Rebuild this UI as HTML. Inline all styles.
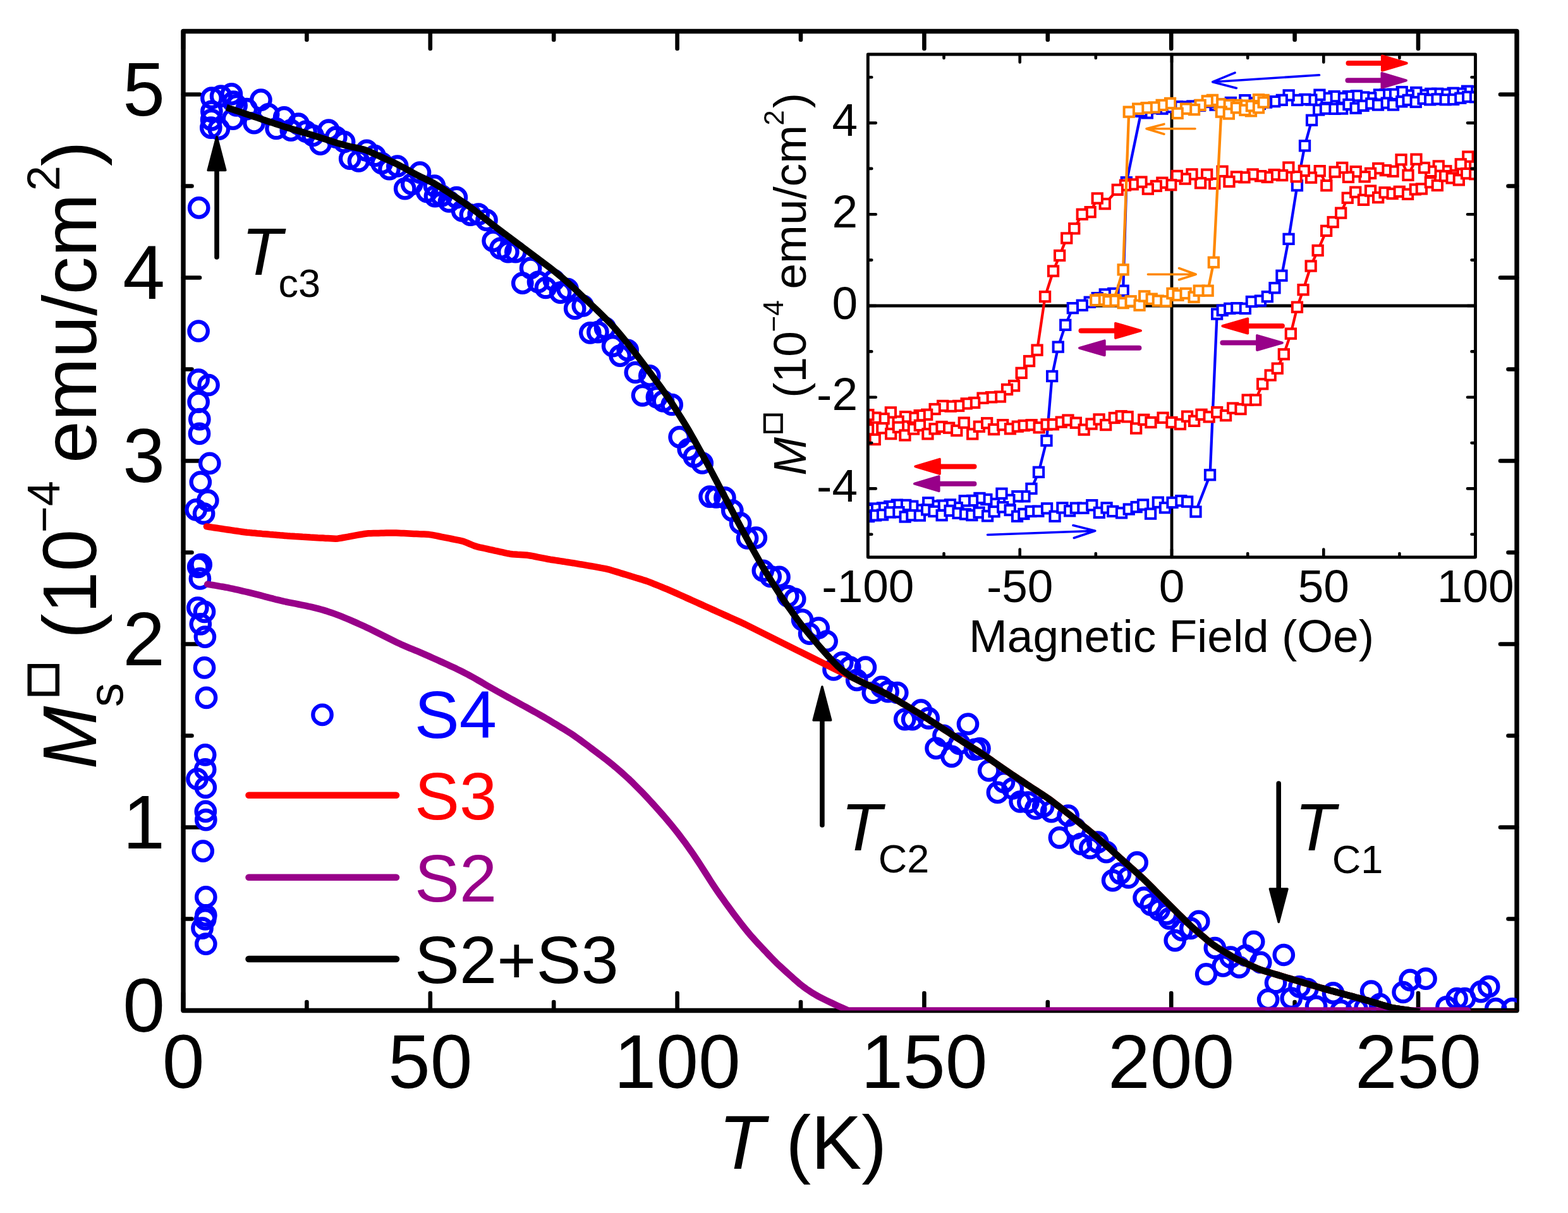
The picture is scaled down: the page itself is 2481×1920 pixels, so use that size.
<!DOCTYPE html>
<html><head><meta charset="utf-8"><title>Ms vs T</title>
<style>html,body{margin:0;padding:0;background:#fff;overflow:hidden;}svg{display:block;}</style>
</head><body>
<svg width="2481" height="1920" viewBox="0 0 2481 1920">
<defs>
<clipPath id="cm"><rect x="290.0" y="49.5" width="2110.0" height="1550.0"/></clipPath>
<clipPath id="ci"><rect x="1373.3" y="86.0" width="961.2" height="796.0"/></clipPath>
</defs>
<rect width="2481" height="1920" fill="#fff"/>
<g stroke="#000" fill="none" stroke-linecap="round">
<rect x="290.0" y="49.5" width="2110.0" height="1550.0" stroke-width="7.4" stroke-linejoin="round"/>
<path d="M290 1599.5V1572M290 49.5V77M485.4 1599.5V1586M485.4 49.5V63M680.8 1599.5V1572M680.8 49.5V77M876.2 1599.5V1586M876.2 49.5V63M1071.6 1599.5V1572M1071.6 49.5V77M1267 1599.5V1586M1267 49.5V63M1462.4 1599.5V1572M1462.4 49.5V77M1657.8 1599.5V1586M1657.8 49.5V63M1853.2 1599.5V1572M1853.2 49.5V77M2048.6 1599.5V1586M2048.6 49.5V63M2244 1599.5V1572M2244 49.5V77M290.0 1599.5H316M2400.0 1599.5H2374M290.0 1454.5H303.5M2400.0 1454.5H2386.5M290.0 1309.5H316M2400.0 1309.5H2374M290.0 1164.5H303.5M2400.0 1164.5H2386.5M290.0 1019.5H316M2400.0 1019.5H2374M290.0 874.5H303.5M2400.0 874.5H2386.5M290.0 729.5H316M2400.0 729.5H2374M290.0 584.5H303.5M2400.0 584.5H2386.5M290.0 439.5H316M2400.0 439.5H2374M290.0 294.5H303.5M2400.0 294.5H2386.5M290.0 149.5H316M2400.0 149.5H2374" stroke-width="6.6"/>
</g>
<g font-family="'Liberation Sans', Arial, sans-serif" font-size="120" fill="#000">
<text x="290" y="1722" text-anchor="middle">0</text>
<text x="680.8" y="1722" text-anchor="middle">50</text>
<text x="1071.6" y="1722" text-anchor="middle">100</text>
<text x="1462.4" y="1722" text-anchor="middle">150</text>
<text x="1853.2" y="1722" text-anchor="middle">200</text>
<text x="2244" y="1722" text-anchor="middle">250</text>
<text x="261" y="1633" text-anchor="end">0</text>
<text x="261" y="1343" text-anchor="end">1</text>
<text x="261" y="1053" text-anchor="end">2</text>
<text x="261" y="763" text-anchor="end">3</text>
<text x="261" y="473" text-anchor="end">4</text>
<text x="261" y="183" text-anchor="end">5</text>
</g>
<text x="1270" y="1850" font-family="'Liberation Sans', Arial, sans-serif" font-size="120" text-anchor="middle"><tspan font-style="italic">T</tspan> (K)</text>
<text transform="translate(152 1214) rotate(-90)" font-family="'Liberation Sans', Arial, sans-serif" font-size="120"><tspan x="-3.6" y="0" font-style="italic">M</tspan><tspan x="108.6" y="-67.5" font-size="62" font-family="DejaVu Sans, sans-serif" stroke="#000" stroke-width="3.1">&#x25A1;</tspan><tspan x="95" y="42" font-size="76">s</tspan><tspan x="202.7" y="0">(10</tspan><tspan x="370.6" y="-58.2" font-size="72">&#x2212;4</tspan><tspan x="480.9" y="0">emu/cm</tspan><tspan x="911.8" y="-58.5" font-size="72">2</tspan><tspan x="950.7" y="0">)</tspan></text>
<g clip-path="url(#cm)">
<g fill="none" stroke="#0000ff" stroke-width="6.3">
<circle cx="314.7" cy="328.9" r="14.7"/>
<circle cx="314.1" cy="524" r="14.7"/>
<circle cx="314.1" cy="601.2" r="14.7"/>
<circle cx="330" cy="609.5" r="14.7"/>
<circle cx="314.1" cy="636.2" r="14.7"/>
<circle cx="315.8" cy="663.7" r="14.7"/>
<circle cx="315.5" cy="686.4" r="14.7"/>
<circle cx="331.8" cy="733.4" r="14.7"/>
<circle cx="317.3" cy="763" r="14.7"/>
<circle cx="328.8" cy="792.2" r="14.7"/>
<circle cx="310.2" cy="806.8" r="14.7"/>
<circle cx="322.6" cy="813" r="14.7"/>
<circle cx="318.2" cy="893.7" r="14.7"/>
<circle cx="313.7" cy="897.3" r="14.7"/>
<circle cx="316.4" cy="915.9" r="14.7"/>
<circle cx="312.8" cy="962" r="14.7"/>
<circle cx="323.5" cy="968.3" r="14.7"/>
<circle cx="317.3" cy="987.8" r="14.7"/>
<circle cx="324.4" cy="1008.2" r="14.7"/>
<circle cx="323.5" cy="1056.9" r="14.7"/>
<circle cx="326.5" cy="1104.3" r="14.7"/>
<circle cx="324.7" cy="1194.8" r="14.7"/>
<circle cx="324.7" cy="1217.9" r="14.7"/>
<circle cx="312" cy="1233" r="14.7"/>
<circle cx="325.3" cy="1246.3" r="14.7"/>
<circle cx="325.3" cy="1284.4" r="14.7"/>
<circle cx="325.8" cy="1297.7" r="14.7"/>
<circle cx="321.2" cy="1347.1" r="14.7"/>
<circle cx="325.8" cy="1419.9" r="14.7"/>
<circle cx="325.8" cy="1448.8" r="14.7"/>
<circle cx="324.7" cy="1455" r="14.7"/>
<circle cx="320" cy="1469.2" r="14.7"/>
<circle cx="325.8" cy="1494.1" r="14.7"/>
<circle cx="334.9" cy="155.2" r="14.7"/>
<circle cx="349.6" cy="152.2" r="14.7"/>
<circle cx="366.4" cy="148.9" r="14.7"/>
<circle cx="369.4" cy="161" r="14.7"/>
<circle cx="374.1" cy="166.9" r="14.7"/>
<circle cx="390.2" cy="172.7" r="14.7"/>
<circle cx="412.9" cy="158.1" r="14.7"/>
<circle cx="334.9" cy="176.4" r="14.7"/>
<circle cx="333.8" cy="202.1" r="14.7"/>
<circle cx="346.3" cy="204.2" r="14.7"/>
<circle cx="368.6" cy="188.1" r="14.7"/>
<circle cx="402" cy="194.7" r="14.7"/>
<circle cx="424.7" cy="180.8" r="14.7"/>
<circle cx="437.1" cy="203.5" r="14.7"/>
<circle cx="449.6" cy="185.9" r="14.7"/>
<circle cx="334.6" cy="189.6" r="14.7"/>
<circle cx="460.3" cy="206.2" r="14.7"/>
<circle cx="472.2" cy="196.2" r="14.7"/>
<circle cx="484.1" cy="208.1" r="14.7"/>
<circle cx="495.1" cy="214.5" r="14.7"/>
<circle cx="507" cy="228.2" r="14.7"/>
<circle cx="519.9" cy="206.2" r="14.7"/>
<circle cx="531.8" cy="217.2" r="14.7"/>
<circle cx="544.6" cy="224.5" r="14.7"/>
<circle cx="553.7" cy="251.1" r="14.7"/>
<circle cx="567.5" cy="254.8" r="14.7"/>
<circle cx="580.3" cy="238.3" r="14.7"/>
<circle cx="593.1" cy="246.5" r="14.7"/>
<circle cx="604.1" cy="258.4" r="14.7"/>
<circle cx="616" cy="267.6" r="14.7"/>
<circle cx="628.8" cy="263" r="14.7"/>
<circle cx="640.7" cy="298.7" r="14.7"/>
<circle cx="651.7" cy="291.4" r="14.7"/>
<circle cx="664.5" cy="273.1" r="14.7"/>
<circle cx="675.5" cy="303.3" r="14.7"/>
<circle cx="687.4" cy="294.1" r="14.7"/>
<circle cx="688.4" cy="310.6" r="14.7"/>
<circle cx="698.6" cy="309.9" r="14.7"/>
<circle cx="710.5" cy="319" r="14.7"/>
<circle cx="722.4" cy="312.6" r="14.7"/>
<circle cx="731.6" cy="333.7" r="14.7"/>
<circle cx="744.4" cy="340.1" r="14.7"/>
<circle cx="757.2" cy="339.2" r="14.7"/>
<circle cx="770" cy="348.4" r="14.7"/>
<circle cx="780.1" cy="381.3" r="14.7"/>
<circle cx="792" cy="393.2" r="14.7"/>
<circle cx="803.9" cy="398.7" r="14.7"/>
<circle cx="815.8" cy="398.7" r="14.7"/>
<circle cx="839.6" cy="424.4" r="14.7"/>
<circle cx="826.8" cy="448.2" r="14.7"/>
<circle cx="851.5" cy="446.3" r="14.7"/>
<circle cx="863.4" cy="455.5" r="14.7"/>
<circle cx="876.3" cy="443.6" r="14.7"/>
<circle cx="886.6" cy="463.1" r="14.7"/>
<circle cx="898.1" cy="457.6" r="14.7"/>
<circle cx="909.7" cy="488.4" r="14.7"/>
<circle cx="922.3" cy="484" r="14.7"/>
<circle cx="957.5" cy="519.1" r="14.7"/>
<circle cx="933.8" cy="526.8" r="14.7"/>
<circle cx="945.9" cy="525.7" r="14.7"/>
<circle cx="969.6" cy="547.7" r="14.7"/>
<circle cx="981.1" cy="563.1" r="14.7"/>
<circle cx="993.2" cy="554.3" r="14.7"/>
<circle cx="1005.3" cy="589.5" r="14.7"/>
<circle cx="1027.8" cy="594.9" r="14.7"/>
<circle cx="1016.5" cy="625.8" r="14.7"/>
<circle cx="1039.4" cy="628.6" r="14.7"/>
<circle cx="1049.5" cy="635" r="14.7"/>
<circle cx="1063.2" cy="640.5" r="14.7"/>
<circle cx="1075.1" cy="691.8" r="14.7"/>
<circle cx="1089.2" cy="711" r="14.7"/>
<circle cx="1098.4" cy="722.9" r="14.7"/>
<circle cx="1111.2" cy="733" r="14.7"/>
<circle cx="1123.1" cy="786.1" r="14.7"/>
<circle cx="1133.2" cy="787" r="14.7"/>
<circle cx="1146.9" cy="787.9" r="14.7"/>
<circle cx="1158.8" cy="808.1" r="14.7"/>
<circle cx="1171.6" cy="828.2" r="14.7"/>
<circle cx="1182.6" cy="852" r="14.7"/>
<circle cx="1196.3" cy="851.1" r="14.7"/>
<circle cx="1207.3" cy="903.3" r="14.7"/>
<circle cx="1219.2" cy="912.5" r="14.7"/>
<circle cx="1233" cy="913.4" r="14.7"/>
<circle cx="1246.7" cy="943.6" r="14.7"/>
<circle cx="1257.7" cy="948.2" r="14.7"/>
<circle cx="1269.6" cy="981.1" r="14.7"/>
<circle cx="1295.2" cy="994" r="14.7"/>
<circle cx="1280.6" cy="1003.1" r="14.7"/>
<circle cx="1308.1" cy="1015" r="14.7"/>
<circle cx="1319" cy="1059.9" r="14.7"/>
<circle cx="1332.8" cy="1048.9" r="14.7"/>
<circle cx="1344.7" cy="1056.2" r="14.7"/>
<circle cx="1355.7" cy="1076.4" r="14.7"/>
<circle cx="1369.4" cy="1056.2" r="14.7"/>
<circle cx="1381.3" cy="1096.5" r="14.7"/>
<circle cx="1395.1" cy="1087.4" r="14.7"/>
<circle cx="1405.1" cy="1094.7" r="14.7"/>
<circle cx="1419.8" cy="1096.5" r="14.7"/>
<circle cx="1431.7" cy="1138.6" r="14.7"/>
<circle cx="1443.6" cy="1138.6" r="14.7"/>
<circle cx="1457.3" cy="1124" r="14.7"/>
<circle cx="1469.2" cy="1136.8" r="14.7"/>
<circle cx="1493" cy="1164.3" r="14.7"/>
<circle cx="1481.1" cy="1184.4" r="14.7"/>
<circle cx="1505.9" cy="1197.3" r="14.7"/>
<circle cx="1517.8" cy="1177.1" r="14.7"/>
<circle cx="1531.5" cy="1146" r="14.7"/>
<circle cx="1542.5" cy="1186.3" r="14.7"/>
<circle cx="1550" cy="1184.8" r="14.7"/>
<circle cx="1564.7" cy="1219.6" r="14.7"/>
<circle cx="1588.5" cy="1237.9" r="14.7"/>
<circle cx="1602.2" cy="1248" r="14.7"/>
<circle cx="1578.4" cy="1254.4" r="14.7"/>
<circle cx="1614.1" cy="1269" r="14.7"/>
<circle cx="1626.9" cy="1270" r="14.7"/>
<circle cx="1638.8" cy="1280" r="14.7"/>
<circle cx="1650.7" cy="1276.4" r="14.7"/>
<circle cx="1663.6" cy="1284.6" r="14.7"/>
<circle cx="1690.1" cy="1291" r="14.7"/>
<circle cx="1701.1" cy="1311.2" r="14.7"/>
<circle cx="1676.4" cy="1325.8" r="14.7"/>
<circle cx="1710.3" cy="1335.9" r="14.7"/>
<circle cx="1724.9" cy="1342.3" r="14.7"/>
<circle cx="1736.8" cy="1333.2" r="14.7"/>
<circle cx="1750.5" cy="1348.7" r="14.7"/>
<circle cx="1772.5" cy="1382.6" r="14.7"/>
<circle cx="1760.6" cy="1393.6" r="14.7"/>
<circle cx="1785.3" cy="1389" r="14.7"/>
<circle cx="1799.1" cy="1365.2" r="14.7"/>
<circle cx="1810.1" cy="1421.1" r="14.7"/>
<circle cx="1821.1" cy="1432.1" r="14.7"/>
<circle cx="1833.9" cy="1440.3" r="14.7"/>
<circle cx="1845.8" cy="1446.7" r="14.7"/>
<circle cx="1850" cy="1453.8" r="14.7"/>
<circle cx="1859.2" cy="1488.6" r="14.7"/>
<circle cx="1870.1" cy="1472.2" r="14.7"/>
<circle cx="1883.9" cy="1469.4" r="14.7"/>
<circle cx="1896.7" cy="1458.4" r="14.7"/>
<circle cx="1908.6" cy="1541.8" r="14.7"/>
<circle cx="1922.3" cy="1500.5" r="14.7"/>
<circle cx="1935.2" cy="1528.9" r="14.7"/>
<circle cx="1947.1" cy="1515.2" r="14.7"/>
<circle cx="1960.8" cy="1530.8" r="14.7"/>
<circle cx="1970.9" cy="1512.5" r="14.7"/>
<circle cx="1983.7" cy="1490.5" r="14.7"/>
<circle cx="1994.7" cy="1523.4" r="14.7"/>
<circle cx="2031.3" cy="1511.5" r="14.7"/>
<circle cx="2018.5" cy="1555.5" r="14.7"/>
<circle cx="2006.6" cy="1582.1" r="14.7"/>
<circle cx="2043.2" cy="1580.2" r="14.7"/>
<circle cx="2056" cy="1561.9" r="14.7"/>
<circle cx="2068.9" cy="1565.6" r="14.7"/>
<circle cx="2082.6" cy="1593" r="14.7"/>
<circle cx="2109.5" cy="1571.9" r="14.7"/>
<circle cx="2122" cy="1599.8" r="14.7"/>
<circle cx="2146.9" cy="1596.8" r="14.7"/>
<circle cx="2160.1" cy="1595.4" r="14.7"/>
<circle cx="2169.6" cy="1569" r="14.7"/>
<circle cx="2183.5" cy="1589.5" r="14.7"/>
<circle cx="2220.1" cy="1570.5" r="14.7"/>
<circle cx="2231.1" cy="1551.4" r="14.7"/>
<circle cx="2256" cy="1549.2" r="14.7"/>
<circle cx="2289" cy="1593.9" r="14.7"/>
<circle cx="2305.1" cy="1580.7" r="14.7"/>
<circle cx="2317.6" cy="1580.7" r="14.7"/>
<circle cx="2343.2" cy="1569.7" r="14.7"/>
<circle cx="2355.7" cy="1561.7" r="14.7"/>
<circle cx="2366.7" cy="1596.8" r="14.7"/>
<circle cx="2393" cy="1596.8" r="14.7"/>
</g>
<path d="M326.9 833.4 L330.9 834 L334.9 834.6 L338.9 835.2 L342.9 835.8 L346.9 836.4 L350.9 837 L354.9 837.6 L358.9 838.2 L362.9 838.8 L366.9 839.4 L370.9 840 L374.9 840.5 L378.9 841.1 L382.9 841.7 L386.9 842.3 L390.9 842.8 L394.9 843.1 L398.9 843.5 L402.9 843.8 L406.9 844.2 L410.9 844.5 L414.9 844.9 L418.9 845.2 L422.9 845.5 L426.9 845.9 L430.9 846.2 L434.9 846.6 L438.9 846.9 L442.9 847.3 L446.9 847.6 L450.9 847.9 L454.9 848.3 L458.9 848.6 L462.9 848.8 L466.9 849.1 L470.9 849.3 L474.9 849.5 L478.9 849.8 L482.9 850 L486.9 850.2 L490.9 850.5 L494.9 850.7 L498.9 850.9 L502.9 851.2 L506.9 851.4 L510.9 851.6 L514.9 851.9 L518.9 852.1 L522.9 852.3 L526.9 852.5 L530.9 852.7 L534.9 852.4 L538.9 851.8 L542.9 851 L546.9 850.3 L550.9 849.6 L554.9 848.8 L558.9 848.1 L562.9 847.4 L566.9 846.7 L570.9 846 L574.9 845.3 L578.9 844.7 L582.9 844.3 L586.9 844.2 L590.9 844.1 L594.9 844 L598.9 843.9 L602.9 843.8 L606.9 843.7 L610.9 843.6 L614.9 843.5 L618.9 843.4 L622.9 843.4 L626.9 843.5 L630.9 843.7 L634.9 843.9 L638.9 844.1 L642.9 844.3 L646.9 844.5 L650.9 844.7 L654.9 844.9 L658.9 845.1 L662.9 845.3 L666.9 845.4 L670.9 845.6 L674.9 845.8 L678.9 846.1 L682.9 846.6 L686.9 847.4 L690.9 848.2 L694.9 849 L698.9 849.8 L702.9 850.6 L706.9 851.4 L710.9 852.2 L714.9 853 L718.9 853.8 L722.9 854.6 L726.9 855.4 L730.9 856.3 L734.9 857.6 L738.9 859.2 L742.9 860.9 L746.9 862.5 L750.9 864.1 L754.9 865.3 L758.9 866.3 L762.9 867.1 L766.9 868 L770.9 868.9 L774.9 869.8 L778.9 870.7 L782.9 871.6 L786.9 872.4 L790.9 873.3 L794.9 874.2 L798.9 875.1 L802.9 876 L806.9 876.7 L810.9 877.2 L814.9 877.4 L818.9 877.7 L822.9 877.9 L826.9 878.2 L830.9 878.5 L834.9 878.8 L838.9 879.5 L842.9 880.2 L846.9 881 L850.9 881.8 L854.9 882.6 L858.9 883.4 L862.9 884.2 L866.9 885 L870.9 885.7 L874.9 886.3 L878.9 886.9 L882.9 887.5 L886.9 888.1 L890.9 888.7 L894.9 889.4 L898.9 890 L902.9 890.6 L906.9 891.2 L910.9 891.9 L914.9 892.6 L918.9 893.3 L922.9 893.9 L926.9 894.6 L930.9 895.3 L934.9 896 L938.9 896.7 L942.9 897.4 L946.9 898.1 L950.9 898.9 L954.9 899.6 L958.9 900.4 L962.9 901.3 L966.9 902.5 L970.9 903.7 L974.9 904.9 L978.9 906.1 L982.9 907.4 L986.9 908.6 L990.9 909.8 L994.9 911 L998.9 912.3 L1002.9 913.5 L1006.9 914.7 L1010.9 915.9 L1014.9 917.1 L1018.9 918.4 L1022.9 919.6 L1026.9 921.1 L1030.9 922.7 L1034.9 924.3 L1038.9 925.9 L1042.9 927.5 L1046.9 929.2 L1050.9 930.8 L1054.9 932.4 L1058.9 934.1 L1062.9 935.8 L1066.9 937.6 L1070.9 939.4 L1074.9 941.2 L1078.9 943 L1082.9 944.8 L1086.9 946.6 L1090.9 948.4 L1094.9 950.2 L1098.9 952 L1102.9 953.8 L1106.9 955.6 L1110.9 957.4 L1114.9 959.2 L1118.9 961 L1122.9 962.8 L1126.9 964.6 L1130.9 966.4 L1134.9 968.2 L1138.9 970 L1142.9 971.8 L1146.9 973.6 L1150.9 975.4 L1154.9 977.2 L1158.9 979 L1162.9 980.8 L1166.9 982.6 L1170.9 984.4 L1174.9 986.3 L1178.9 988.1 L1182.9 990.1 L1186.9 992.1 L1190.9 994.1 L1194.9 996.1 L1198.9 998.1 L1202.9 1000.1 L1206.9 1002.1 L1210.9 1004.1 L1214.9 1006.1 L1218.9 1008.1 L1222.9 1010.1 L1226.9 1012.1 L1230.9 1014.1 L1234.9 1016.1 L1238.9 1018.1 L1242.9 1020.1 L1246.9 1022.1 L1250.9 1024.1 L1254.9 1026.1 L1258.9 1028.1 L1262.9 1030.1 L1266.9 1032 L1270.9 1034 L1274.9 1036 L1278.9 1038 L1282.9 1040 L1286.9 1042 L1290.9 1044 L1294.9 1046 L1298.9 1048 L1302.9 1050 L1306.9 1052 L1310.9 1054 L1314.9 1056 L1318.9 1058 L1322.9 1060 L1326.9 1061.9 L1330.9 1063.8 L1334.9 1065.7 L1338.9 1067.5 L1342.9 1069.3 L1344.7 1070.2 L1348.7 1072.2 L1352.7 1074.2 L1356.7 1076.2 L1360.7 1078.2 L1364.7 1080.2 L1368.7 1082.2 L1372.7 1084.1 L1376.7 1086 L1380.7 1087.9 L1384.7 1089.8 L1388.7 1091.7 L1392.7 1093.6 L1396.7 1095.5 L1400.7 1097.4 L1404.7 1099.5 L1408.7 1101.9 L1412.7 1104.3 L1416.7 1106.7 L1420.7 1109.1 L1424.7 1111.5 L1428.7 1113.9 L1432.7 1116.3 L1436.7 1118.7 L1440.7 1121.1 L1444.7 1123.5 L1448.7 1125.9 L1452.7 1128.3 L1456.7 1130.7 L1460.7 1133.2 L1464.7 1135.8 L1468.7 1138.4 L1472.7 1141 L1476.7 1143.6 L1480.7 1146.2 L1484.7 1148.8 L1488.7 1151.4 L1492.7 1154 L1496.7 1156.6 L1500.7 1159.2 L1504.7 1161.8 L1508.7 1164.4 L1512.7 1167 L1516.7 1169.6 L1520.7 1172.2 L1524.7 1174.8 L1528.7 1177.4 L1532.7 1179.9 L1536.7 1182.3 L1540.7 1184.7 L1544.7 1187.1 L1548.7 1189.6 L1552.7 1192.3 L1556.7 1195 L1560.7 1197.8 L1564.7 1200.6 L1568.7 1203.4 L1572.7 1206.2 L1576.7 1209 L1580.7 1211.8 L1584.7 1214.6 L1588.7 1217.3 L1592.7 1220.1 L1596.7 1222.8 L1600.7 1225.5 L1604.7 1228.1 L1608.7 1230.8 L1612.7 1233.5 L1616.7 1236.2 L1620.7 1238.9 L1624.7 1241.6 L1628.7 1244.2 L1632.7 1246.8 L1636.7 1249.4 L1640.7 1252 L1644.7 1254.6 L1648.7 1257.2 L1652.7 1259.8 L1656.7 1262.5 L1660.7 1265.3 L1664.7 1268.3 L1668.7 1271.4 L1672.7 1274.5 L1676.7 1277.5 L1680.7 1280.6 L1684.7 1283.7 L1688.7 1286.8 L1692.7 1289.9 L1696.7 1293.1 L1700.7 1296.3 L1704.7 1299.6 L1708.7 1302.9 L1712.7 1306.2 L1716.7 1309.5 L1720.7 1312.7 L1724.7 1316 L1728.7 1319.3 L1732.7 1322.6 L1736.7 1326 L1740.7 1329.5 L1744.7 1333.1 L1748.7 1336.7 L1752.7 1340.3 L1756.7 1343.9 L1760.7 1347.5 L1764.7 1351.1 L1768.7 1354.7 L1772.7 1358.3 L1776.7 1361.9 L1780.7 1365.5 L1784.7 1369 L1788.7 1372.6 L1792.7 1376.2 L1796.7 1379.8 L1800.7 1383.4 L1804.7 1387 L1808.7 1390.7 L1812.7 1394.5 L1816.7 1398.5 L1820.7 1402.5 L1824.7 1406.5 L1828.7 1410.6 L1832.7 1414.6 L1836.7 1418.6 L1840.7 1422.6 L1844.7 1426.6 L1848.7 1430.6 L1852.7 1434.6 L1856.7 1438.6 L1860.7 1442.6 L1864.7 1446.6 L1868.7 1450.5 L1872.7 1454.5 L1876.7 1458.5 L1880.7 1462.5 L1884.7 1466.2 L1888.7 1469.7 L1892.7 1473.1 L1896.7 1476.5 L1900.7 1479.9 L1904.7 1483.3 L1908.7 1486.7 L1912.7 1490.1 L1916.7 1493.4 L1920.7 1496.4 L1924.7 1499 L1928.7 1501.4 L1932.7 1503.9 L1936.7 1506.3 L1940.7 1508.7 L1944.7 1511.1 L1948.7 1513.5 L1952.7 1515.9 L1956.7 1518.1 L1960.7 1520 L1964.7 1521.8 L1968.7 1523.6 L1972.7 1525.4 L1976.7 1527.3 L1980.7 1529.1 L1984.7 1530.9 L1988.7 1532.6 L1992.7 1534.3 L1996.7 1535.7 L2000.7 1536.9 L2004.7 1538.1 L2008.7 1539.3 L2012.7 1540.5 L2016.7 1541.7 L2020.7 1542.9 L2024.7 1544.1 L2028.7 1545.3 L2032.7 1546.5 L2036.7 1547.7 L2040.7 1548.9 L2044.7 1550.1 L2048.7 1551.3 L2052.7 1552.5 L2056.7 1553.7 L2060.7 1554.9 L2064.7 1556.1 L2068.7 1557.3 L2072.7 1558.5 L2076.7 1559.7 L2080.7 1560.8 L2084.7 1562 L2088.7 1563.2 L2092.7 1564.4 L2096.7 1565.5 L2100.7 1566.7 L2104.7 1567.8 L2108.7 1568.8 L2112.7 1569.9 L2116.7 1571 L2120.7 1572 L2124.7 1573.1 L2128.7 1574.2 L2132.7 1575.3 L2136.7 1576.3 L2140.7 1577.4 L2144.7 1578.5 L2148.7 1579.5 L2152.7 1580.6 L2156.7 1581.7 L2160.7 1582.8 L2164.7 1584 L2168.7 1585.2 L2172.7 1586.4 L2176.7 1587.6 L2180.7 1588.8 L2184.7 1590 L2188.7 1591.2 L2192.7 1592.4 L2196.7 1593.6 L2200.7 1594.8 L2204.7 1595.6 L2208.7 1596.2 L2212.7 1596.8 L2216.7 1597.4 L2220.7 1597.9 L2224.7 1598.5 L2228.7 1599 L2232.7 1599.6 L2236.7 1600.1 L2240.7 1600.7 L2244.7 1601.1 L2245 1601.3 L2249 1601.3 L2253 1601.3 L2257 1601.3 L2261 1601.3 L2265 1601.3 L2269 1601.3 L2273 1601.3 L2277 1601.3 L2281 1601.3 L2285 1601.3 L2289 1601.3 L2293 1601.3 L2297 1601.3 L2301 1601.3 L2305 1601.3 L2309 1601.3 L2313 1601.3 L2317 1601.3 L2321 1601.3 L2325 1601.3 L2329 1601.3 L2333 1601.3 L2337 1601.3 L2341 1601.3 L2345 1601.3 L2349 1601.3 L2353 1601.3 L2357 1601.3 L2361 1601.3 L2365 1601.3 L2369 1601.3 L2373 1601.3 L2377 1601.3 L2381 1601.3 L2385 1601.3 L2389 1601.3 L2393 1601.3 L2397 1601.3 L2401 1601.3 L2405 1601.3 L2409 1601.3 L2413 1601.3 L2417 1601.3 L2420 1601.3" fill="none" stroke="#ff0000" stroke-width="10.5" stroke-linejoin="round" stroke-linecap="round"/>
<path d="M358.4 170.1 L362.4 171.4 L366.4 172.8 L370.4 174.1 L374.4 175.4 L378.4 176.8 L382.4 178.1 L386.4 179.4 L390.4 180.7 L394.4 182.1 L398.4 183.4 L402.4 184.7 L406.4 186.1 L410.4 187.4 L414.4 188.7 L418.4 190.1 L422.4 191.4 L426.4 192.7 L430.4 194 L434.4 195.4 L438.4 196.7 L442.4 198 L446.4 199.4 L450.4 200.7 L454.4 201.9 L458.4 203.1 L462.4 204.4 L466.4 205.6 L470.4 206.7 L474.4 207.9 L478.4 209.1 L482.4 210.3 L486.4 211.5 L490.4 212.7 L494.4 213.9 L498.4 215.2 L502.4 216.4 L506.4 217.7 L510.4 219 L514.4 220.3 L518.4 221.6 L522.4 222.9 L526.4 224.2 L530.4 225.5 L534.4 226.7 L538.4 227.8 L542.4 228.9 L546.4 230 L550.4 231 L554.4 232 L558.4 232.9 L562.4 233.7 L566.4 234.5 L570.4 235.4 L574.4 236.3 L578.4 237.5 L582.4 239.1 L586.4 240.8 L590.4 242.6 L594.4 244.5 L598.4 246.3 L602.4 248.1 L606.4 249.9 L610.4 251.7 L614.4 253.5 L618.4 255.3 L622.4 257.1 L626.4 259 L630.4 261 L634.4 263.1 L638.4 265.2 L642.4 267.4 L646.4 269.6 L650.4 271.8 L654.4 274 L658.4 276.2 L662.4 278.2 L666.4 280.2 L670.4 282.1 L674.4 284 L678.4 286 L682.4 287.9 L686.4 290 L690.4 292.4 L694.4 294.8 L698.4 297.4 L702.4 300 L706.4 302.6 L710.4 305.2 L714.4 307.8 L718.4 310.4 L722.4 313 L726.4 315.6 L730.4 318.3 L734.4 321 L738.4 323.9 L742.4 326.8 L746.4 329.8 L750.4 332.8 L754.4 335.9 L758.4 339 L762.4 342.1 L766.4 345.3 L770.4 348.4 L774.4 351.6 L778.4 354.8 L782.4 357.9 L786.4 361 L790.4 364 L794.4 367 L798.4 369.9 L802.4 372.9 L806.4 375.9 L810.4 378.9 L814.4 382 L818.4 385 L822.4 388 L826.4 391 L830.4 394 L834.4 397 L838.4 400 L842.4 403 L846.4 406 L850.4 409 L854.4 412 L858.4 415 L862.4 418 L866.4 421 L870.4 424 L874.4 427.1 L878.4 430.3 L882.4 433.6 L886.4 436.9 L890.4 440.3 L894.4 443.7 L898.4 447.2 L902.4 450.8 L906.4 454.5 L910.4 458.3 L914.4 462.1 L918.4 466 L922.4 469.8 L926.4 473.6 L930.4 477.4 L934.4 481.2 L938.4 485 L942.4 488.8 L946.4 492.6 L950.4 496.5 L954.4 500.5 L958.4 504.5 L962.4 508.5 L966.4 512.6 L970.4 516.8 L974.4 521.3 L978.4 526 L982.4 530.7 L986.4 535.6 L990.4 540.4 L994.4 545.3 L998.4 550.4 L1002.4 555.5 L1006.4 560.7 L1010.4 565.9 L1014.4 571.1 L1018.4 576.4 L1022.4 581.7 L1026.4 587.1 L1030.4 592.4 L1034.4 597.8 L1038.4 603.3 L1042.4 608.7 L1046.4 614.2 L1050.4 619.8 L1054.4 625.4 L1058.4 631.2 L1062.4 637.2 L1066.4 643.4 L1070.4 649.8 L1074.4 656.2 L1078.4 662.6 L1082.4 669.1 L1086.4 675.6 L1090.4 682.3 L1094.4 689.3 L1098.4 696.4 L1102.4 703.6 L1106.4 710.8 L1110.4 718 L1114.4 725.2 L1118.4 732.6 L1122.4 740 L1126.4 747.6 L1130.4 755.2 L1134.4 762.8 L1138.4 770.4 L1142.4 778.1 L1146.4 785.7 L1150.4 793.3 L1154.4 800.9 L1158.4 808.5 L1162.4 816.1 L1166.4 823.7 L1170.4 831.3 L1174.4 838.9 L1178.4 846.3 L1182.4 853.6 L1186.4 860.9 L1190.4 868.1 L1194.4 875.3 L1198.4 882.4 L1202.4 889.6 L1206.4 896.5 L1210.4 903.3 L1214.4 909.8 L1218.4 916.2 L1222.4 922.7 L1226.4 929.1 L1230.4 935.4 L1234.4 941.7 L1238.4 947.7 L1242.4 953.5 L1246.4 959.2 L1250.4 964.8 L1254.4 970.4 L1258.4 976 L1262.4 981.5 L1266.4 986.8 L1270.4 991.9 L1274.4 996.8 L1278.4 1001.6 L1282.4 1006.4 L1286.4 1011.2 L1290.4 1016 L1294.4 1020.7 L1298.4 1025.3 L1302.4 1029.8 L1306.4 1034.2 L1310.4 1038.6 L1314.4 1043 L1318.4 1047.3 L1322.4 1051.5 L1326.4 1055.4 L1330.4 1058.9 L1334.4 1062.1 L1338.4 1065.2 L1342.4 1067.8 L1344.7 1070.2 L1348.7 1072.2 L1352.7 1074.2 L1356.7 1076.2 L1360.7 1078.2 L1364.7 1080.2 L1368.7 1082.2 L1372.7 1084.1 L1376.7 1086 L1380.7 1087.9 L1384.7 1089.8 L1388.7 1091.7 L1392.7 1093.6 L1396.7 1095.5 L1400.7 1097.5 L1404.7 1099.6 L1408.7 1101.9 L1412.7 1104.3 L1416.7 1106.7 L1420.7 1109.1 L1424.7 1111.5 L1428.7 1113.9 L1432.7 1116.3 L1436.7 1118.7 L1440.7 1121.1 L1444.7 1123.5 L1448.7 1125.9 L1452.7 1128.3 L1456.7 1130.8 L1460.7 1133.3 L1464.7 1135.8 L1468.7 1138.4 L1472.7 1141 L1476.7 1143.6 L1480.7 1146.2 L1484.7 1148.8 L1488.7 1151.4 L1492.7 1154 L1496.7 1156.6 L1500.7 1159.2 L1504.7 1161.8 L1508.7 1164.4 L1512.7 1167 L1516.7 1169.6 L1520.7 1172.2 L1524.7 1174.8 L1528.7 1177.3 L1532.7 1179.9 L1536.7 1182.3 L1540.7 1184.7 L1544.7 1187.2 L1548.7 1189.7 L1552.7 1192.3 L1556.7 1195 L1560.7 1197.8 L1564.7 1200.6 L1568.7 1203.4 L1572.7 1206.2 L1576.7 1209 L1580.7 1211.8 L1584.7 1214.6 L1588.7 1217.3 L1592.7 1220 L1596.7 1222.8 L1600.7 1225.5 L1604.7 1228.1 L1608.7 1230.8 L1612.7 1233.5 L1616.7 1236.2 L1620.7 1238.9 L1624.7 1241.6 L1628.7 1244.2 L1632.7 1246.8 L1636.7 1249.4 L1640.7 1252 L1644.7 1254.6 L1648.7 1257.2 L1652.7 1259.9 L1656.7 1262.6 L1660.7 1265.4 L1664.7 1268.3 L1668.7 1271.4 L1672.7 1274.5 L1676.7 1277.5 L1680.7 1280.6 L1684.7 1283.7 L1688.7 1286.8 L1692.7 1289.9 L1696.7 1293.1 L1700.7 1296.3 L1704.7 1299.6 L1708.7 1302.9 L1712.7 1306.2 L1716.7 1309.5 L1720.7 1312.7 L1724.7 1316 L1728.7 1319.3 L1732.7 1322.6 L1736.7 1326 L1740.7 1329.5 L1744.7 1333.1 L1748.7 1336.7 L1752.7 1340.3 L1756.7 1343.9 L1760.7 1347.5 L1764.7 1351.1 L1768.7 1354.7 L1772.7 1358.3 L1776.7 1361.9 L1780.7 1365.5 L1784.7 1369 L1788.7 1372.6 L1792.7 1376.2 L1796.7 1379.8 L1800.7 1383.4 L1804.7 1387.1 L1808.7 1390.8 L1812.7 1394.6 L1816.7 1398.5 L1820.7 1402.5 L1824.7 1406.5 L1828.7 1410.6 L1832.7 1414.6 L1836.7 1418.6 L1840.7 1422.6 L1844.7 1426.6 L1848.7 1430.6 L1852.7 1434.6 L1856.7 1438.6 L1860.7 1442.6 L1864.7 1446.6 L1868.7 1450.5 L1872.7 1454.5 L1876.7 1458.5 L1880.7 1462.4 L1884.7 1466.1 L1888.7 1469.6 L1892.7 1473.1 L1896.7 1476.5 L1900.7 1479.9 L1904.7 1483.3 L1908.7 1486.7 L1912.7 1490 L1916.7 1493.3 L1920.7 1496.2 L1924.7 1498.9 L1928.7 1501.4 L1932.7 1503.9 L1936.7 1506.3 L1940.7 1508.7 L1944.7 1511.1 L1948.7 1513.5 L1952.7 1515.8 L1956.7 1518 L1960.7 1520 L1964.7 1521.8 L1968.7 1523.6 L1972.7 1525.4 L1976.7 1527.3 L1980.7 1529.1 L1984.7 1530.8 L1988.7 1532.6 L1992.7 1534.2 L1996.7 1535.6 L2000.7 1536.9 L2004.7 1538.1 L2008.7 1539.3 L2012.7 1540.5 L2016.7 1541.7 L2020.7 1542.9 L2024.7 1544.1 L2028.7 1545.3 L2032.7 1546.5 L2036.7 1547.7 L2040.7 1548.9 L2044.7 1550.1 L2048.7 1551.3 L2052.7 1552.5 L2056.7 1553.7 L2060.7 1554.9 L2064.7 1556.1 L2068.7 1557.3 L2072.7 1558.5 L2076.7 1559.7 L2080.7 1560.8 L2084.7 1562 L2088.7 1563.2 L2092.7 1564.4 L2096.7 1565.5 L2100.7 1566.6 L2104.7 1567.7 L2108.7 1568.8 L2112.7 1569.9 L2116.7 1571 L2120.7 1572 L2124.7 1573.1 L2128.7 1574.2 L2132.7 1575.3 L2136.7 1576.3 L2140.7 1577.4 L2144.7 1578.5 L2148.7 1579.5 L2152.7 1580.6 L2156.7 1581.7 L2160.7 1582.9 L2164.7 1584 L2168.7 1585.2 L2172.7 1586.4 L2176.7 1587.6 L2180.7 1588.8 L2184.7 1590 L2188.7 1591.2 L2192.7 1592.4 L2196.7 1593.6 L2200.7 1594.6 L2204.7 1595.5 L2208.7 1596.2 L2212.7 1596.8 L2216.7 1597.4 L2220.7 1597.9 L2224.7 1598.5 L2228.7 1599 L2232.7 1599.6 L2236.7 1600.1 L2240.7 1600.6 L2244.7 1601.1 L2245 1601.3 L2249 1601.3 L2253 1601.3 L2257 1601.3 L2261 1601.3 L2265 1601.3 L2269 1601.3 L2273 1601.3 L2277 1601.3 L2281 1601.3 L2285 1601.3 L2289 1601.3 L2293 1601.3 L2297 1601.3 L2301 1601.3 L2305 1601.3 L2309 1601.3 L2313 1601.3 L2317 1601.3 L2321 1601.3 L2325 1601.3 L2329 1601.3 L2333 1601.3 L2337 1601.3 L2341 1601.3 L2345 1601.3 L2349 1601.3 L2353 1601.3 L2357 1601.3 L2361 1601.3 L2365 1601.3 L2369 1601.3 L2373 1601.3 L2377 1601.3 L2381 1601.3 L2385 1601.3 L2389 1601.3 L2393 1601.3 L2397 1601.3 L2401 1601.3 L2405 1601.3 L2409 1601.3 L2413 1601.3 L2417 1601.3 L2420 1601.3" fill="none" stroke="#000" stroke-width="10.5" stroke-linejoin="round" stroke-linecap="butt"/>
<path d="M328.2 924.7 L332.2 925.4 L336.2 926 L340.2 926.7 L344.2 927.4 L348.2 928.1 L352.2 928.7 L356.2 929.5 L360.2 930.2 L364.2 931.1 L368.2 931.9 L372.2 932.8 L376.2 933.7 L380.2 934.6 L384.2 935.6 L388.2 936.5 L392.2 937.4 L396.2 938.4 L400.2 939.4 L404.2 940.4 L408.2 941.4 L412.2 942.4 L416.2 943.5 L420.2 944.6 L424.2 945.6 L428.2 946.7 L432.2 947.7 L436.2 948.8 L440.2 949.7 L444.2 950.7 L448.2 951.6 L452.2 952.5 L456.2 953.3 L460.2 954.1 L464.2 954.9 L468.2 955.7 L472.2 956.5 L476.2 957.3 L480.2 958.1 L484.2 958.9 L488.2 959.8 L492.2 960.6 L496.2 961.6 L500.2 962.6 L504.2 963.6 L508.2 964.7 L512.2 965.9 L516.2 967.1 L520.2 968.4 L524.2 969.7 L528.2 971.1 L532.2 972.6 L536.2 974.1 L540.2 975.7 L544.2 977.3 L548.2 979 L552.2 980.6 L556.2 982.3 L560.2 984.1 L564.2 985.9 L568.2 987.7 L572.2 989.5 L576.2 991.3 L580.2 993.2 L584.2 995.1 L588.2 997 L592.2 999 L596.2 1001 L600.2 1003 L604.2 1005 L608.2 1007 L612.2 1009 L616.2 1011 L620.2 1013 L624.2 1015 L628.2 1016.9 L632.2 1018.8 L636.2 1020.7 L640.2 1022.4 L644.2 1024.1 L648.2 1025.8 L652.2 1027.4 L656.2 1029.1 L660.2 1030.7 L664.2 1032.4 L668.2 1034.1 L672.2 1035.9 L676.2 1037.6 L680.2 1039.4 L684.2 1041.2 L688.2 1043 L692.2 1044.8 L696.2 1046.6 L700.2 1048.4 L704.2 1050.2 L708.2 1052 L712.2 1053.9 L716.2 1055.7 L720.2 1057.6 L724.2 1059.6 L728.2 1061.5 L732.2 1063.5 L736.2 1065.6 L740.2 1067.6 L744.2 1069.8 L748.2 1072 L752.2 1074.3 L756.2 1076.6 L760.2 1078.9 L764.2 1081.3 L768.2 1083.7 L772.2 1086 L776.2 1088.3 L780.2 1090.5 L784.2 1092.8 L788.2 1095 L792.2 1097.2 L796.2 1099.4 L800.2 1101.6 L804.2 1103.8 L808.2 1106 L812.2 1108.2 L816.2 1110.4 L820.2 1112.6 L824.2 1114.8 L828.2 1117 L832.2 1119.2 L836.2 1121.4 L840.2 1123.6 L844.2 1125.8 L848.2 1128 L852.2 1130.3 L856.2 1132.6 L860.2 1134.9 L864.2 1137.2 L868.2 1139.6 L872.2 1142 L876.2 1144.4 L880.2 1146.8 L884.2 1149.2 L888.2 1151.7 L892.2 1154.1 L896.2 1156.6 L900.2 1159.1 L904.2 1161.7 L908.2 1164.4 L912.2 1167.2 L916.2 1170 L920.2 1173 L924.2 1175.9 L928.2 1178.9 L932.2 1181.9 L936.2 1185 L940.2 1188 L944.2 1191 L948.2 1194 L952.2 1197 L956.2 1200.1 L960.2 1203.2 L964.2 1206.4 L968.2 1209.6 L972.2 1213 L976.2 1216.3 L980.2 1219.7 L984.2 1223.2 L988.2 1226.8 L992.2 1230.5 L996.2 1234.2 L1000.2 1238.1 L1004.2 1242.1 L1008.2 1246.1 L1012.2 1250.1 L1016.2 1254.2 L1020.2 1258.4 L1024.2 1262.7 L1028.2 1267 L1032.2 1271.3 L1036.2 1275.7 L1040.2 1280.2 L1044.2 1284.7 L1048.2 1289.3 L1052.2 1293.9 L1056.2 1298.7 L1060.2 1303.4 L1064.2 1308.3 L1068.2 1313.2 L1072.2 1318.3 L1076.2 1323.5 L1080.2 1328.8 L1084.2 1334.2 L1088.2 1339.8 L1092.2 1345.4 L1096.2 1351.1 L1100.2 1357 L1104.2 1363 L1108.2 1369.1 L1112.2 1375.3 L1116.2 1381.6 L1120.2 1387.9 L1124.2 1394.2 L1128.2 1400.3 L1132.2 1406.3 L1136.2 1412.2 L1140.2 1417.9 L1144.2 1423.6 L1148.2 1429.2 L1152.2 1434.7 L1156.2 1440.2 L1160.2 1445.6 L1164.2 1450.9 L1168.2 1456.2 L1172.2 1461.4 L1176.2 1466.5 L1180.2 1471.5 L1184.2 1476.4 L1188.2 1481.1 L1192.2 1485.6 L1196.2 1490 L1200.2 1494.3 L1204.2 1498.5 L1208.2 1502.8 L1212.2 1507 L1216.2 1511.3 L1220.2 1515.5 L1224.2 1519.6 L1228.2 1523.7 L1232.2 1527.5 L1236.2 1531.2 L1240.2 1534.9 L1244.2 1538.5 L1248.2 1542.1 L1252.2 1545.7 L1256.2 1549.3 L1260.2 1552.8 L1264.2 1556.3 L1268.2 1559.5 L1272.2 1562.6 L1276.2 1565.5 L1280.2 1568.2 L1284.2 1570.8 L1288.2 1573.3 L1292.2 1575.6 L1296.2 1577.8 L1300.2 1579.9 L1304.2 1581.9 L1308.2 1583.9 L1312.2 1585.8 L1316.2 1587.6 L1320.2 1589.5 L1324.2 1591.4 L1328.2 1593.2 L1332.2 1595.1 L1336.2 1596.9 L1340.2 1598.6 L1341 1599.5 L1345 1599.5 L1349 1599.5 L1353 1599.5 L1357 1599.5 L1361 1599.5 L1365 1599.5 L1369 1599.5 L1373 1599.5 L1377 1599.5 L1381 1599.5 L1385 1599.5 L1389 1599.5 L1393 1599.5 L1397 1599.5 L1401 1599.5 L1405 1599.5 L1409 1599.5 L1413 1599.5 L1417 1599.5 L1421 1599.5 L1425 1599.5 L1429 1599.5 L1433 1599.5 L1437 1599.5 L1441 1599.5 L1445 1599.5 L1449 1599.5 L1453 1599.5 L1457 1599.5 L1461 1599.5 L1465 1599.5 L1469 1599.5 L1473 1599.5 L1477 1599.5 L1481 1599.5 L1485 1599.5 L1489 1599.5 L1493 1599.5 L1497 1599.5 L1501 1599.5 L1505 1599.5 L1509 1599.5 L1513 1599.5 L1517 1599.5 L1521 1599.5 L1525 1599.5 L1529 1599.5 L1533 1599.5 L1537 1599.5 L1541 1599.5 L1545 1599.5 L1549 1599.5 L1553 1599.5 L1557 1599.5 L1561 1599.5 L1565 1599.5 L1569 1599.5 L1573 1599.5 L1577 1599.5 L1581 1599.5 L1585 1599.5 L1589 1599.5 L1593 1599.5 L1597 1599.5 L1601 1599.5 L1605 1599.5 L1609 1599.5 L1613 1599.5 L1617 1599.5 L1621 1599.5 L1625 1599.5 L1629 1599.5 L1633 1599.5 L1637 1599.5 L1641 1599.5 L1645 1599.5 L1649 1599.5 L1653 1599.5 L1657 1599.5 L1661 1599.5 L1665 1599.5 L1669 1599.5 L1673 1599.5 L1677 1599.5 L1681 1599.5 L1685 1599.5 L1689 1599.5 L1693 1599.5 L1697 1599.5 L1701 1599.5 L1705 1599.5 L1709 1599.5 L1713 1599.5 L1717 1599.5 L1721 1599.5 L1725 1599.5 L1729 1599.5 L1733 1599.5 L1737 1599.5 L1741 1599.5 L1745 1599.5 L1749 1599.5 L1753 1599.5 L1757 1599.5 L1761 1599.5 L1765 1599.5 L1769 1599.5 L1773 1599.5 L1777 1599.5 L1781 1599.5 L1785 1599.5 L1789 1599.5 L1793 1599.5 L1797 1599.5 L1801 1599.5 L1805 1599.5 L1809 1599.5 L1813 1599.5 L1817 1599.5 L1821 1599.5 L1825 1599.5 L1829 1599.5 L1833 1599.5 L1837 1599.5 L1841 1599.5 L1845 1599.5 L1849 1599.5 L1853 1599.5 L1857 1599.5 L1861 1599.5 L1865 1599.5 L1869 1599.5 L1873 1599.5 L1877 1599.5 L1881 1599.5 L1885 1599.5 L1889 1599.5 L1893 1599.5 L1897 1599.5 L1901 1599.5 L1905 1599.5 L1909 1599.5 L1913 1599.5 L1917 1599.5 L1921 1599.5 L1925 1599.5 L1929 1599.5 L1933 1599.5 L1937 1599.5 L1941 1599.5 L1945 1599.5 L1949 1599.5 L1953 1599.5 L1957 1599.5 L1961 1599.5 L1965 1599.5 L1969 1599.5 L1973 1599.5 L1977 1599.5 L1981 1599.5 L1985 1599.5 L1989 1599.5 L1993 1599.5 L1997 1599.5 L2001 1599.5 L2005 1599.5 L2009 1599.5 L2013 1599.5 L2017 1599.5 L2021 1599.5 L2025 1599.5 L2029 1599.5 L2033 1599.5 L2037 1599.5 L2041 1599.5 L2045 1599.5 L2049 1599.5 L2053 1599.5 L2057 1599.5 L2061 1599.5 L2065 1599.5 L2069 1599.5 L2073 1599.5 L2077 1599.5 L2081 1599.5 L2085 1599.5 L2089 1599.5 L2093 1599.5 L2097 1599.5 L2101 1599.5 L2105 1599.5 L2109 1599.5 L2113 1599.5 L2117 1599.5 L2121 1599.5 L2125 1599.5 L2129 1599.5 L2133 1599.5 L2137 1599.5 L2141 1599.5 L2145 1599.5 L2149 1599.5 L2153 1599.5 L2157 1599.5 L2161 1599.5 L2165 1599.5 L2169 1599.5 L2173 1599.5 L2177 1599.5 L2181 1599.5 L2185 1599.5 L2189 1599.5 L2193 1599.5 L2197 1599.5 L2201 1599.5 L2205 1599.5 L2209 1599.5 L2213 1599.5 L2217 1599.5 L2221 1599.5 L2225 1599.5 L2229 1599.5 L2233 1599.5 L2237 1599.5 L2241 1599.5 L2245 1599.5 L2249 1599.5 L2253 1599.5 L2257 1599.5 L2261 1599.5 L2265 1599.5 L2269 1599.5 L2273 1599.5 L2277 1599.5 L2281 1599.5 L2285 1599.5 L2289 1599.5 L2293 1599.5 L2297 1599.5 L2301 1599.5 L2305 1599.5 L2309 1599.5 L2313 1599.5 L2317 1599.5 L2321 1599.5 L2322 1599.5" fill="none" stroke="#980089" stroke-width="10.5" stroke-linejoin="round" stroke-linecap="round"/>
<path d="M2092.7 1564.4 L2096.7 1565.5 L2100.7 1566.6 L2104.7 1567.7 L2108.7 1568.8 L2112.7 1569.9 L2116.7 1571 L2120.7 1572 L2124.7 1573.1 L2128.7 1574.2 L2132.7 1575.3 L2136.7 1576.3 L2140.7 1577.4 L2144.7 1578.5 L2148.7 1579.5 L2152.7 1580.6 L2156.7 1581.7 L2160.7 1582.9 L2164.7 1584 L2168.7 1585.2 L2172.7 1586.4 L2176.7 1587.6 L2180.7 1588.8 L2184.7 1590 L2188.7 1591.2 L2192.7 1592.4 L2196.7 1593.6 L2200.7 1594.6 L2204.7 1595.5 L2208.7 1596.2 L2212.7 1596.8 L2216.7 1597.4 L2220.7 1597.9 L2224.7 1598.5 L2228.7 1599 L2232.7 1599.6 L2236.7 1600.1 L2240.7 1600.6 L2244.7 1601.1 L2245 1601.3" fill="none" stroke="#000" stroke-width="10.5" stroke-linejoin="round"/>
</g>
<path d="M343 407V269.5" stroke="#000" stroke-width="7.6" stroke-linecap="round" fill="none"/><path d="M343 216.5L329.2 269.5L356.8 269.5Z" fill="#000" stroke="#000" stroke-width="3.5" stroke-linejoin="round"/>
<path d="M1300.9 1306V1140" stroke="#000" stroke-width="7.6" stroke-linecap="round" fill="none"/><path d="M1300.9 1087L1287.1 1140L1314.7 1140Z" fill="#000" stroke="#000" stroke-width="3.5" stroke-linejoin="round"/>
<path d="M2023.2 1240V1407" stroke="#000" stroke-width="7.6" stroke-linecap="round" fill="none"/><path d="M2023.2 1459.5L2009.4 1407L2037 1407Z" fill="#000" stroke="#000" stroke-width="3.5" stroke-linejoin="round"/>
<text font-family="'Liberation Sans', Arial, sans-serif" font-size="105"><tspan x="382.2" y="434.5" font-style="italic">T</tspan><tspan x="440.4" y="469.5" font-size="63">c3</tspan></text>
<text font-family="'Liberation Sans', Arial, sans-serif" font-size="105"><tspan x="1330.7" y="1345.6" font-style="italic">T</tspan><tspan x="1389.8" y="1381" font-size="63">C2</tspan></text>
<text font-family="'Liberation Sans', Arial, sans-serif" font-size="105"><tspan x="2048.7" y="1345.7" font-style="italic">T</tspan><tspan x="2107.8" y="1381.9" font-size="63">C1</tspan></text>
<g stroke-width="10.5" stroke-linecap="round">
<circle cx="510" cy="1131.4" r="14.7" fill="none" stroke="#0000ff" stroke-width="6.3"/>
<path d="M393.5 1258.7H627" stroke="#ff0000"/>
<path d="M393.5 1388.8H627" stroke="#980089"/>
<path d="M393.5 1518H627" stroke="#000"/>
</g>
<g font-family="'Liberation Sans', Arial, sans-serif" font-size="106.5">
<text x="655.7" y="1167.8" fill="#0000ff">S4</text>
<text x="656" y="1297.3" fill="#ff0000">S3</text>
<text x="656" y="1426.9" fill="#980089">S2</text>
<text x="656" y="1556.4" fill="#000">S2+S3</text>
</g>
<rect x="1373.3" y="86.0" width="961.2" height="796.0" fill="#fff" stroke="none"/>
<path d="M1854 86.0V882.0M1373.3 484H2334.5" stroke="#000" stroke-width="4.8" fill="none"/>
<g clip-path="url(#ci)">
<path d="M2334.1 144.7 L2321.6 144.2 L2311.2 148.1 L2299.3 147.2 L2286.2 149.1 L2274.5 148.2 L2263.7 148.3 L2251.4 150.5 L2240.8 146.5 L2228.3 151.1 L2218.2 145.5 L2204.5 149.3 L2192.3 149.5 L2182.4 149.9 L2168.8 154.9 L2157.6 153.9 L2146.3 151.7 L2133.6 152.5 L2123.2 155.1 L2111.1 152.6 L2099 155.3 L2087.9 150.2 L2074.8 158.1 L2064.9 157.4 L2052.7 158.5 L2039.1 150.8 L2028.2 158.4 L2016.7 160.6 L2003.6 162.2 L1993.3 164.5 L1982.4 163 L1969.9 158.7 L1958 167.7 L1947.3 162.5 L1934.2 165.1 L1923.1 166.2 L1911.1 161.5 L1898.3 167.2 L1886.8 168 L1875.3 169 L1862.7 168.7 L1852.6 169.6 L1839 172.2 L1829.4 171.1 L1815.3 178.8 L1805.8 176.2 L1782.4 288.6 L1777.1 460.1 L1761.7 464.5 L1748.3 465.9 L1736.3 471.7 L1724.2 478.2 L1712.2 483.3 L1697.3 487.6 L1685.8 514.4 L1674.3 549.1 L1664.6 595.4 L1656 697.5 L1643.5 747.4 L1632 773.4 L1620.9 785.7 L1609.8 785.6 L1596.9 791.3 L1584.9 781.3 L1572.6 797.5 L1560.9 790.6 L1550 788.5 L1538.5 792.4 L1526.2 792.7 L1514.3 803.7 L1503.5 798.9 L1491.2 800.2 L1478.1 800.9 L1468.7 795.7 L1456.7 807.2 L1443.7 801.3 L1432.7 799.4 L1419.2 799.2 L1407.8 801.7 L1396.5 803.8 L1384.2 805 L1372.3 806.6 L1374.5 817.5 L1385.5 815.9 L1396.5 814.8 L1408.3 811 L1421.9 810.7 L1432.2 818 L1442.9 815.6 L1455.4 816.1 L1466.6 806.8 L1478 809.5 L1490.1 815.7 L1503 808.4 L1516.1 812.2 L1527.5 813.9 L1537.9 815.5 L1549.1 811.2 L1562.6 816.8 L1573.1 809.8 L1586.7 802.8 L1598.1 807.4 L1609.6 817.3 L1619.9 813.4 L1631.1 809.4 L1642.9 809.2 L1656.5 804.8 L1669.1 817.3 L1680.9 803.9 L1692.6 808.8 L1702.3 804.1 L1714 804.3 L1727.8 799.7 L1739.4 811.3 L1751.1 803.8 L1760.8 809.4 L1774.6 811.9 L1786.2 806.1 L1798.1 802.6 L1808.6 798.9 L1820.5 813.2 L1832.3 795.1 L1843.4 803.6 L1855.1 795.4 L1868.8 792.6 L1878.7 794.2 L1891.9 810 L1914.6 751.7 L1925.6 497 L1934.3 491.2 L1945.8 488.3 L1956.8 487.6 L1970.3 488.3 L1980.4 477.5 L1994.3 476 L2005.4 469.5 L2016.9 455.8 L2028 436.2 L2039 378.4 L2052.5 293.7 L2064.5 230.7 L2075.6 190.2 L2086.7 174 L2097.5 172.2 L2112 172.4 L2123.7 172.1 L2134 165.4 L2145.1 171.2 L2157 167.3 L2169.8 163.9 L2180.6 166 L2194.2 163 L2204.4 166.1 L2217.8 160.9 L2228.2 158.3 L2240.3 161.5 L2252 156.3 L2262.8 157.9 L2274.1 156.9 L2287.2 157.8 L2299.7 157.4 L2310.9 155.2 L2322.7 153.3 L2334.5 153.8" fill="none" stroke="#0000ff" stroke-width="4.3" stroke-linejoin="round"/><g fill="#fff" stroke="#0000ff" stroke-width="4"><rect x="2326.4" y="137" width="15.3" height="15.3"/><rect x="2313.9" y="136.6" width="15.3" height="15.3"/><rect x="2303.5" y="140.4" width="15.3" height="15.3"/><rect x="2291.6" y="139.6" width="15.3" height="15.3"/><rect x="2278.5" y="141.5" width="15.3" height="15.3"/><rect x="2266.9" y="140.6" width="15.3" height="15.3"/><rect x="2256.1" y="140.7" width="15.3" height="15.3"/><rect x="2243.7" y="142.8" width="15.3" height="15.3"/><rect x="2233.1" y="138.8" width="15.3" height="15.3"/><rect x="2220.7" y="143.4" width="15.3" height="15.3"/><rect x="2210.6" y="137.9" width="15.3" height="15.3"/><rect x="2196.8" y="141.6" width="15.3" height="15.3"/><rect x="2184.6" y="141.8" width="15.3" height="15.3"/><rect x="2174.8" y="142.3" width="15.3" height="15.3"/><rect x="2161.2" y="147.3" width="15.3" height="15.3"/><rect x="2150" y="146.3" width="15.3" height="15.3"/><rect x="2138.7" y="144" width="15.3" height="15.3"/><rect x="2125.9" y="144.9" width="15.3" height="15.3"/><rect x="2115.5" y="147.5" width="15.3" height="15.3"/><rect x="2103.5" y="144.9" width="15.3" height="15.3"/><rect x="2091.3" y="147.6" width="15.3" height="15.3"/><rect x="2080.3" y="142.5" width="15.3" height="15.3"/><rect x="2067.2" y="150.4" width="15.3" height="15.3"/><rect x="2057.2" y="149.7" width="15.3" height="15.3"/><rect x="2045" y="150.8" width="15.3" height="15.3"/><rect x="2031.5" y="143.2" width="15.3" height="15.3"/><rect x="2020.6" y="150.7" width="15.3" height="15.3"/><rect x="2009" y="153" width="15.3" height="15.3"/><rect x="1995.9" y="154.5" width="15.3" height="15.3"/><rect x="1985.7" y="156.8" width="15.3" height="15.3"/><rect x="1974.8" y="155.3" width="15.3" height="15.3"/><rect x="1962.2" y="151" width="15.3" height="15.3"/><rect x="1950.4" y="160.1" width="15.3" height="15.3"/><rect x="1939.7" y="154.8" width="15.3" height="15.3"/><rect x="1926.5" y="157.5" width="15.3" height="15.3"/><rect x="1915.4" y="158.5" width="15.3" height="15.3"/><rect x="1903.5" y="153.8" width="15.3" height="15.3"/><rect x="1890.7" y="159.6" width="15.3" height="15.3"/><rect x="1879.2" y="160.4" width="15.3" height="15.3"/><rect x="1867.6" y="161.4" width="15.3" height="15.3"/><rect x="1855" y="161.1" width="15.3" height="15.3"/><rect x="1845" y="161.9" width="15.3" height="15.3"/><rect x="1831.3" y="164.5" width="15.3" height="15.3"/><rect x="1821.7" y="163.5" width="15.3" height="15.3"/><rect x="1807.7" y="171.2" width="15.3" height="15.3"/><rect x="1798.2" y="168.6" width="15.3" height="15.3"/><rect x="1774.7" y="281" width="15.3" height="15.3"/><rect x="1769.5" y="452.5" width="15.3" height="15.3"/><rect x="1754.1" y="456.8" width="15.3" height="15.3"/><rect x="1740.6" y="458.3" width="15.3" height="15.3"/><rect x="1728.6" y="464" width="15.3" height="15.3"/><rect x="1716.6" y="470.6" width="15.3" height="15.3"/><rect x="1704.6" y="475.6" width="15.3" height="15.3"/><rect x="1689.7" y="480" width="15.3" height="15.3"/><rect x="1678.1" y="506.7" width="15.3" height="15.3"/><rect x="1666.6" y="541.5" width="15.3" height="15.3"/><rect x="1657" y="587.8" width="15.3" height="15.3"/><rect x="1648.3" y="689.8" width="15.3" height="15.3"/><rect x="1635.8" y="739.7" width="15.3" height="15.3"/><rect x="1624.3" y="765.8" width="15.3" height="15.3"/><rect x="1613.3" y="778.1" width="15.3" height="15.3"/><rect x="1602.2" y="778" width="15.3" height="15.3"/><rect x="1589.2" y="783.7" width="15.3" height="15.3"/><rect x="1577.3" y="773.6" width="15.3" height="15.3"/><rect x="1564.9" y="789.8" width="15.3" height="15.3"/><rect x="1553.2" y="782.9" width="15.3" height="15.3"/><rect x="1542.3" y="780.8" width="15.3" height="15.3"/><rect x="1530.9" y="784.7" width="15.3" height="15.3"/><rect x="1518.6" y="785.1" width="15.3" height="15.3"/><rect x="1506.7" y="796" width="15.3" height="15.3"/><rect x="1495.8" y="791.2" width="15.3" height="15.3"/><rect x="1483.5" y="792.5" width="15.3" height="15.3"/><rect x="1470.4" y="793.3" width="15.3" height="15.3"/><rect x="1461.1" y="788.1" width="15.3" height="15.3"/><rect x="1449" y="799.5" width="15.3" height="15.3"/><rect x="1436.1" y="793.6" width="15.3" height="15.3"/><rect x="1425" y="791.8" width="15.3" height="15.3"/><rect x="1411.6" y="791.5" width="15.3" height="15.3"/><rect x="1400.1" y="794" width="15.3" height="15.3"/><rect x="1388.8" y="796.2" width="15.3" height="15.3"/><rect x="1376.5" y="797.3" width="15.3" height="15.3"/><rect x="1364.6" y="799" width="15.3" height="15.3"/><rect x="1366.8" y="809.9" width="15.3" height="15.3"/><rect x="1377.9" y="808.2" width="15.3" height="15.3"/><rect x="1388.9" y="807.2" width="15.3" height="15.3"/><rect x="1400.7" y="803.3" width="15.3" height="15.3"/><rect x="1414.3" y="803" width="15.3" height="15.3"/><rect x="1424.5" y="810.4" width="15.3" height="15.3"/><rect x="1435.3" y="808" width="15.3" height="15.3"/><rect x="1447.7" y="808.4" width="15.3" height="15.3"/><rect x="1459" y="799.2" width="15.3" height="15.3"/><rect x="1470.3" y="801.8" width="15.3" height="15.3"/><rect x="1482.5" y="808" width="15.3" height="15.3"/><rect x="1495.4" y="800.7" width="15.3" height="15.3"/><rect x="1508.4" y="804.6" width="15.3" height="15.3"/><rect x="1519.9" y="806.2" width="15.3" height="15.3"/><rect x="1530.2" y="807.9" width="15.3" height="15.3"/><rect x="1541.4" y="803.6" width="15.3" height="15.3"/><rect x="1554.9" y="809.1" width="15.3" height="15.3"/><rect x="1565.4" y="802.1" width="15.3" height="15.3"/><rect x="1579.1" y="795.1" width="15.3" height="15.3"/><rect x="1590.5" y="799.8" width="15.3" height="15.3"/><rect x="1601.9" y="809.6" width="15.3" height="15.3"/><rect x="1612.2" y="805.8" width="15.3" height="15.3"/><rect x="1623.4" y="801.8" width="15.3" height="15.3"/><rect x="1635.2" y="801.5" width="15.3" height="15.3"/><rect x="1648.9" y="797.1" width="15.3" height="15.3"/><rect x="1661.4" y="809.6" width="15.3" height="15.3"/><rect x="1673.3" y="796.2" width="15.3" height="15.3"/><rect x="1685" y="801.1" width="15.3" height="15.3"/><rect x="1694.7" y="796.5" width="15.3" height="15.3"/><rect x="1706.3" y="796.6" width="15.3" height="15.3"/><rect x="1720.1" y="792" width="15.3" height="15.3"/><rect x="1731.7" y="803.7" width="15.3" height="15.3"/><rect x="1743.4" y="796.2" width="15.3" height="15.3"/><rect x="1753.1" y="801.7" width="15.3" height="15.3"/><rect x="1766.9" y="804.2" width="15.3" height="15.3"/><rect x="1778.6" y="798.4" width="15.3" height="15.3"/><rect x="1790.5" y="794.9" width="15.3" height="15.3"/><rect x="1800.9" y="791.3" width="15.3" height="15.3"/><rect x="1812.9" y="805.5" width="15.3" height="15.3"/><rect x="1824.7" y="787.5" width="15.3" height="15.3"/><rect x="1835.8" y="796" width="15.3" height="15.3"/><rect x="1847.4" y="787.8" width="15.3" height="15.3"/><rect x="1861.2" y="785" width="15.3" height="15.3"/><rect x="1871" y="786.5" width="15.3" height="15.3"/><rect x="1884.3" y="802.4" width="15.3" height="15.3"/><rect x="1906.9" y="744.1" width="15.3" height="15.3"/><rect x="1918" y="489.4" width="15.3" height="15.3"/><rect x="1926.6" y="483.6" width="15.3" height="15.3"/><rect x="1938.1" y="480.7" width="15.3" height="15.3"/><rect x="1949.2" y="480" width="15.3" height="15.3"/><rect x="1962.7" y="480.7" width="15.3" height="15.3"/><rect x="1972.7" y="469.8" width="15.3" height="15.3"/><rect x="1986.7" y="468.4" width="15.3" height="15.3"/><rect x="1997.7" y="461.9" width="15.3" height="15.3"/><rect x="2009.3" y="448.1" width="15.3" height="15.3"/><rect x="2020.3" y="428.6" width="15.3" height="15.3"/><rect x="2031.4" y="370.7" width="15.3" height="15.3"/><rect x="2044.8" y="286" width="15.3" height="15.3"/><rect x="2056.9" y="223.1" width="15.3" height="15.3"/><rect x="2067.9" y="182.6" width="15.3" height="15.3"/><rect x="2079" y="166.3" width="15.3" height="15.3"/><rect x="2089.8" y="164.5" width="15.3" height="15.3"/><rect x="2104.3" y="164.7" width="15.3" height="15.3"/><rect x="2116" y="164.4" width="15.3" height="15.3"/><rect x="2126.3" y="157.8" width="15.3" height="15.3"/><rect x="2137.5" y="163.6" width="15.3" height="15.3"/><rect x="2149.4" y="159.7" width="15.3" height="15.3"/><rect x="2162.1" y="156.3" width="15.3" height="15.3"/><rect x="2172.9" y="158.4" width="15.3" height="15.3"/><rect x="2186.6" y="155.4" width="15.3" height="15.3"/><rect x="2196.8" y="158.4" width="15.3" height="15.3"/><rect x="2210.1" y="153.2" width="15.3" height="15.3"/><rect x="2220.5" y="150.7" width="15.3" height="15.3"/><rect x="2232.6" y="153.8" width="15.3" height="15.3"/><rect x="2244.4" y="148.7" width="15.3" height="15.3"/><rect x="2255.1" y="150.2" width="15.3" height="15.3"/><rect x="2266.4" y="149.2" width="15.3" height="15.3"/><rect x="2279.5" y="150.1" width="15.3" height="15.3"/><rect x="2292" y="149.8" width="15.3" height="15.3"/><rect x="2303.2" y="147.6" width="15.3" height="15.3"/><rect x="2315.1" y="145.6" width="15.3" height="15.3"/><rect x="2326.9" y="146.1" width="15.3" height="15.3"/></g>
<path d="M2333.9 261.8 L2322.8 248 L2311.2 259.9 L2299.1 277.4 L2287.8 270.7 L2276.3 263 L2263.8 271.4 L2253.5 265.6 L2241 252.1 L2227.9 277.2 L2217 252.7 L2204 271.2 L2192.2 269.6 L2180.8 266.6 L2168.5 274.3 L2159.1 279.7 L2145.2 271.6 L2133.4 280.4 L2123.8 265.5 L2112.2 272.1 L2098.8 293.6 L2088.3 270.6 L2074.6 281.2 L2063.3 270.4 L2051.1 279.6 L2038.8 265.1 L2028.6 277.6 L2016.2 276.6 L2005.3 280.4 L1994.5 278.7 L1982.2 275.9 L1968.9 280.8 L1956.5 279.9 L1945 287.4 L1934 271.2 L1921.8 290.6 L1909.7 276.2 L1899.5 289.8 L1886 275.9 L1875.2 283.1 L1862.4 278.5 L1852.7 292.7 L1838.9 289.2 L1829.3 294.5 L1816.4 299.2 L1806 288.1 L1792.3 291.8 L1780.4 293.3 L1768.3 300.3 L1748.3 322.6 L1736.3 314 L1725.2 335.7 L1712.2 339.3 L1699.7 361.7 L1687.7 376.9 L1676.7 404.4 L1666.6 429 L1653.6 469.5 L1641.1 554.2 L1628.6 571.6 L1616.1 590.4 L1604.6 610.6 L1593.5 616.4 L1582.5 628 L1568.5 628.7 L1555.1 630.2 L1541.6 637.4 L1529.1 638.9 L1516.6 642.5 L1504.1 643.2 L1491.6 642.5 L1479.1 647.5 L1466.6 656.2 L1455.1 657.7 L1444.5 661.3 L1432.6 659.7 L1421.2 667.1 L1409.3 652.9 L1398.2 662.7 L1385 661.2 L1373.9 656.8 L1373.5 679.8 L1384.3 695.5 L1395.8 677.7 L1409.6 686.7 L1421.5 676.2 L1432 689 L1445.4 679.1 L1455.4 673.3 L1468 686.8 L1479.1 678.9 L1490.1 675.5 L1501.7 677.2 L1513.7 681.6 L1525.3 669.1 L1538.7 686.9 L1549.4 675.3 L1561.7 669.7 L1572.6 679.6 L1586.7 672.7 L1598.5 678.7 L1610.2 675.1 L1620.1 673.5 L1632.1 672.6 L1644.1 676.7 L1656 672 L1666.3 671.7 L1679.3 668.1 L1690 665 L1702.3 669.2 L1715.1 680.2 L1727.1 671 L1739 663.9 L1749.7 672.6 L1763.4 661.4 L1774.2 658.7 L1784.2 659.7 L1797.7 678 L1809.7 664.4 L1820.9 668.6 L1840.1 661.3 L1854 668.5 L1867.5 671.4 L1878.5 659.1 L1889.6 666.3 L1901.1 656.2 L1913.1 659.8 L1925.6 652.6 L1939.5 657.7 L1950.6 646.1 L1963.1 647.5 L1974.2 633.1 L1986.6 633.1 L1997.7 607.7 L2010.2 594 L2021.2 583.1 L2031.3 560.7 L2042.4 528.1 L2052.5 486.2 L2062.1 458.7 L2074.1 421 L2085.2 396.4 L2098.6 365.3 L2109.2 351.6 L2121.7 337.1 L2132.3 313.2 L2144.8 304.2 L2157.5 316.3 L2168.6 302.1 L2180.6 312.5 L2191.1 304.8 L2203.2 306.5 L2214.3 303.4 L2227.6 307.3 L2239.3 299.8 L2249.3 298.9 L2263.4 288.6 L2274.4 293.4 L2286.5 278.6 L2297.1 281.8 L2308.4 284.8 L2320.5 274.7 L2333.8 275.6" fill="none" stroke="#ff0000" stroke-width="4.3" stroke-linejoin="round"/><g fill="#fff" stroke="#ff0000" stroke-width="4"><rect x="2326.2" y="254.2" width="15.3" height="15.3"/><rect x="2315.2" y="240.4" width="15.3" height="15.3"/><rect x="2303.6" y="252.2" width="15.3" height="15.3"/><rect x="2291.5" y="269.8" width="15.3" height="15.3"/><rect x="2280.2" y="263.1" width="15.3" height="15.3"/><rect x="2268.6" y="255.3" width="15.3" height="15.3"/><rect x="2256.2" y="263.7" width="15.3" height="15.3"/><rect x="2245.8" y="257.9" width="15.3" height="15.3"/><rect x="2233.3" y="244.5" width="15.3" height="15.3"/><rect x="2220.3" y="269.6" width="15.3" height="15.3"/><rect x="2209.4" y="245.1" width="15.3" height="15.3"/><rect x="2196.4" y="263.6" width="15.3" height="15.3"/><rect x="2184.6" y="261.9" width="15.3" height="15.3"/><rect x="2173.1" y="258.9" width="15.3" height="15.3"/><rect x="2160.9" y="266.7" width="15.3" height="15.3"/><rect x="2151.5" y="272.1" width="15.3" height="15.3"/><rect x="2137.6" y="264" width="15.3" height="15.3"/><rect x="2125.8" y="272.7" width="15.3" height="15.3"/><rect x="2116.1" y="257.8" width="15.3" height="15.3"/><rect x="2104.5" y="264.5" width="15.3" height="15.3"/><rect x="2091.2" y="286" width="15.3" height="15.3"/><rect x="2080.6" y="263" width="15.3" height="15.3"/><rect x="2066.9" y="273.5" width="15.3" height="15.3"/><rect x="2055.7" y="262.7" width="15.3" height="15.3"/><rect x="2043.5" y="272" width="15.3" height="15.3"/><rect x="2031.2" y="257.4" width="15.3" height="15.3"/><rect x="2021" y="269.9" width="15.3" height="15.3"/><rect x="2008.5" y="268.9" width="15.3" height="15.3"/><rect x="1997.6" y="272.8" width="15.3" height="15.3"/><rect x="1986.9" y="271" width="15.3" height="15.3"/><rect x="1974.5" y="268.3" width="15.3" height="15.3"/><rect x="1961.3" y="273.1" width="15.3" height="15.3"/><rect x="1948.8" y="272.3" width="15.3" height="15.3"/><rect x="1937.3" y="279.8" width="15.3" height="15.3"/><rect x="1926.4" y="263.6" width="15.3" height="15.3"/><rect x="1914.1" y="282.9" width="15.3" height="15.3"/><rect x="1902" y="268.6" width="15.3" height="15.3"/><rect x="1891.9" y="282.1" width="15.3" height="15.3"/><rect x="1878.3" y="268.2" width="15.3" height="15.3"/><rect x="1867.5" y="275.5" width="15.3" height="15.3"/><rect x="1854.7" y="270.8" width="15.3" height="15.3"/><rect x="1845.1" y="285.1" width="15.3" height="15.3"/><rect x="1831.2" y="281.6" width="15.3" height="15.3"/><rect x="1821.7" y="286.8" width="15.3" height="15.3"/><rect x="1808.7" y="291.5" width="15.3" height="15.3"/><rect x="1798.3" y="280.4" width="15.3" height="15.3"/><rect x="1784.6" y="284.2" width="15.3" height="15.3"/><rect x="1772.8" y="285.6" width="15.3" height="15.3"/><rect x="1760.6" y="292.7" width="15.3" height="15.3"/><rect x="1740.6" y="315" width="15.3" height="15.3"/><rect x="1728.6" y="306.3" width="15.3" height="15.3"/><rect x="1717.5" y="328" width="15.3" height="15.3"/><rect x="1704.6" y="331.6" width="15.3" height="15.3"/><rect x="1692.1" y="354.1" width="15.3" height="15.3"/><rect x="1680.1" y="369.3" width="15.3" height="15.3"/><rect x="1669" y="396.8" width="15.3" height="15.3"/><rect x="1658.9" y="421.4" width="15.3" height="15.3"/><rect x="1645.9" y="461.9" width="15.3" height="15.3"/><rect x="1633.4" y="546.5" width="15.3" height="15.3"/><rect x="1620.9" y="563.9" width="15.3" height="15.3"/><rect x="1608.5" y="582.7" width="15.3" height="15.3"/><rect x="1596.9" y="603" width="15.3" height="15.3"/><rect x="1585.9" y="608.8" width="15.3" height="15.3"/><rect x="1574.8" y="620.3" width="15.3" height="15.3"/><rect x="1560.9" y="621.1" width="15.3" height="15.3"/><rect x="1547.4" y="622.5" width="15.3" height="15.3"/><rect x="1534" y="629.8" width="15.3" height="15.3"/><rect x="1521.5" y="631.2" width="15.3" height="15.3"/><rect x="1509" y="634.8" width="15.3" height="15.3"/><rect x="1496.5" y="635.5" width="15.3" height="15.3"/><rect x="1484" y="634.8" width="15.3" height="15.3"/><rect x="1471.5" y="639.9" width="15.3" height="15.3"/><rect x="1459" y="648.6" width="15.3" height="15.3"/><rect x="1447.5" y="650" width="15.3" height="15.3"/><rect x="1436.9" y="653.6" width="15.3" height="15.3"/><rect x="1425" y="652" width="15.3" height="15.3"/><rect x="1413.5" y="659.5" width="15.3" height="15.3"/><rect x="1401.7" y="645.2" width="15.3" height="15.3"/><rect x="1390.5" y="655.1" width="15.3" height="15.3"/><rect x="1377.3" y="653.5" width="15.3" height="15.3"/><rect x="1366.2" y="649.1" width="15.3" height="15.3"/><rect x="1365.9" y="672.1" width="15.3" height="15.3"/><rect x="1376.6" y="687.9" width="15.3" height="15.3"/><rect x="1388.2" y="670.1" width="15.3" height="15.3"/><rect x="1402" y="679" width="15.3" height="15.3"/><rect x="1413.8" y="668.6" width="15.3" height="15.3"/><rect x="1424.3" y="681.3" width="15.3" height="15.3"/><rect x="1437.8" y="671.4" width="15.3" height="15.3"/><rect x="1447.7" y="665.7" width="15.3" height="15.3"/><rect x="1460.3" y="679.2" width="15.3" height="15.3"/><rect x="1471.4" y="671.2" width="15.3" height="15.3"/><rect x="1482.4" y="667.9" width="15.3" height="15.3"/><rect x="1494" y="669.6" width="15.3" height="15.3"/><rect x="1506.1" y="673.9" width="15.3" height="15.3"/><rect x="1517.6" y="661.5" width="15.3" height="15.3"/><rect x="1531.1" y="679.3" width="15.3" height="15.3"/><rect x="1541.7" y="667.6" width="15.3" height="15.3"/><rect x="1554" y="662.1" width="15.3" height="15.3"/><rect x="1564.9" y="672" width="15.3" height="15.3"/><rect x="1579" y="665" width="15.3" height="15.3"/><rect x="1590.8" y="671.1" width="15.3" height="15.3"/><rect x="1602.6" y="667.5" width="15.3" height="15.3"/><rect x="1612.5" y="665.9" width="15.3" height="15.3"/><rect x="1624.5" y="665" width="15.3" height="15.3"/><rect x="1636.5" y="669.1" width="15.3" height="15.3"/><rect x="1648.4" y="664.3" width="15.3" height="15.3"/><rect x="1658.7" y="664.1" width="15.3" height="15.3"/><rect x="1671.6" y="660.5" width="15.3" height="15.3"/><rect x="1682.3" y="657.4" width="15.3" height="15.3"/><rect x="1694.7" y="661.6" width="15.3" height="15.3"/><rect x="1707.5" y="672.5" width="15.3" height="15.3"/><rect x="1719.4" y="663.4" width="15.3" height="15.3"/><rect x="1731.4" y="656.2" width="15.3" height="15.3"/><rect x="1742" y="664.9" width="15.3" height="15.3"/><rect x="1755.7" y="653.8" width="15.3" height="15.3"/><rect x="1766.5" y="651.1" width="15.3" height="15.3"/><rect x="1776.5" y="652.1" width="15.3" height="15.3"/><rect x="1790" y="670.4" width="15.3" height="15.3"/><rect x="1802.1" y="656.7" width="15.3" height="15.3"/><rect x="1813.3" y="660.9" width="15.3" height="15.3"/><rect x="1832.4" y="653.6" width="15.3" height="15.3"/><rect x="1846.3" y="660.9" width="15.3" height="15.3"/><rect x="1859.8" y="663.8" width="15.3" height="15.3"/><rect x="1870.9" y="651.5" width="15.3" height="15.3"/><rect x="1881.9" y="658.7" width="15.3" height="15.3"/><rect x="1893.4" y="648.6" width="15.3" height="15.3"/><rect x="1905.5" y="652.2" width="15.3" height="15.3"/><rect x="1918" y="644.9" width="15.3" height="15.3"/><rect x="1931.9" y="650" width="15.3" height="15.3"/><rect x="1943" y="638.4" width="15.3" height="15.3"/><rect x="1955.4" y="639.9" width="15.3" height="15.3"/><rect x="1966.5" y="625.4" width="15.3" height="15.3"/><rect x="1979" y="625.4" width="15.3" height="15.3"/><rect x="1990" y="600.1" width="15.3" height="15.3"/><rect x="2002.5" y="586.3" width="15.3" height="15.3"/><rect x="2013.6" y="575.5" width="15.3" height="15.3"/><rect x="2023.7" y="553.1" width="15.3" height="15.3"/><rect x="2034.7" y="520.5" width="15.3" height="15.3"/><rect x="2044.8" y="478.5" width="15.3" height="15.3"/><rect x="2054.4" y="451" width="15.3" height="15.3"/><rect x="2066.5" y="413.4" width="15.3" height="15.3"/><rect x="2077.5" y="388.8" width="15.3" height="15.3"/><rect x="2091" y="357.7" width="15.3" height="15.3"/><rect x="2101.5" y="343.9" width="15.3" height="15.3"/><rect x="2114" y="329.5" width="15.3" height="15.3"/><rect x="2124.6" y="305.6" width="15.3" height="15.3"/><rect x="2137.1" y="296.5" width="15.3" height="15.3"/><rect x="2149.8" y="308.7" width="15.3" height="15.3"/><rect x="2160.9" y="294.4" width="15.3" height="15.3"/><rect x="2173" y="304.9" width="15.3" height="15.3"/><rect x="2183.4" y="297.1" width="15.3" height="15.3"/><rect x="2195.6" y="298.9" width="15.3" height="15.3"/><rect x="2206.6" y="295.7" width="15.3" height="15.3"/><rect x="2219.9" y="299.7" width="15.3" height="15.3"/><rect x="2231.7" y="292.2" width="15.3" height="15.3"/><rect x="2241.7" y="291.3" width="15.3" height="15.3"/><rect x="2255.7" y="281" width="15.3" height="15.3"/><rect x="2266.7" y="285.8" width="15.3" height="15.3"/><rect x="2278.9" y="271" width="15.3" height="15.3"/><rect x="2289.5" y="274.2" width="15.3" height="15.3"/><rect x="2300.7" y="277.2" width="15.3" height="15.3"/><rect x="2312.9" y="267" width="15.3" height="15.3"/><rect x="2326.2" y="268" width="15.3" height="15.3"/></g>
<path d="M1999.1 158.4 L1991.5 157.7 L1979.4 175.7 L1970.8 167.1 L1956.4 166.3 L1944.4 166.3 L1929.9 164.9 L1918.4 158.4 L1910.2 159.8 L1899.2 166.3 L1889.6 173.6 L1876.6 172.1 L1863.1 179.4 L1851.6 163.4 L1838.1 166.3 L1826.1 170 L1814.1 170.7 L1800.7 172.1 L1786.2 177.2 L1777.1 426.8 L1762.7 474.6 L1751.2 475.3 L1741.1 473.9 L1733.8 475.3 L1733.8 475.3 L1747.3 474.6 L1754 476.8 L1765.1 476 L1777.1 479.7 L1789.1 476.8 L1803.1 483.3 L1810.7 468.8 L1822.3 473.1 L1832.4 476 L1844.9 476.8 L1855 464.5 L1864.1 467.4 L1876.1 464.5 L1889.1 470.3 L1897.3 460.1 L1911.2 460.1 L1920.3 415.3 L1932.3 177.2 L1944.4 180.1 L1956.4 170.7 L1969.8 174.3 L1980.4 167.8 L1991.5 170.7 L1999.1 162" fill="none" stroke="#ff8800" stroke-width="4.3" stroke-linejoin="round"/><g fill="#fff" stroke="#ff8800" stroke-width="4"><rect x="1991.5" y="150.7" width="15.3" height="15.3"/><rect x="1983.8" y="150" width="15.3" height="15.3"/><rect x="1971.8" y="168.1" width="15.3" height="15.3"/><rect x="1963.1" y="159.4" width="15.3" height="15.3"/><rect x="1948.7" y="158.7" width="15.3" height="15.3"/><rect x="1936.7" y="158.7" width="15.3" height="15.3"/><rect x="1922.3" y="157.2" width="15.3" height="15.3"/><rect x="1910.8" y="150.7" width="15.3" height="15.3"/><rect x="1902.6" y="152.2" width="15.3" height="15.3"/><rect x="1891.5" y="158.7" width="15.3" height="15.3"/><rect x="1881.9" y="165.9" width="15.3" height="15.3"/><rect x="1868.9" y="164.5" width="15.3" height="15.3"/><rect x="1855.5" y="171.7" width="15.3" height="15.3"/><rect x="1843.9" y="155.8" width="15.3" height="15.3"/><rect x="1830.5" y="158.7" width="15.3" height="15.3"/><rect x="1818.5" y="162.3" width="15.3" height="15.3"/><rect x="1806.5" y="163" width="15.3" height="15.3"/><rect x="1793" y="164.5" width="15.3" height="15.3"/><rect x="1778.6" y="169.5" width="15.3" height="15.3"/><rect x="1769.5" y="419.2" width="15.3" height="15.3"/><rect x="1755" y="466.9" width="15.3" height="15.3"/><rect x="1743.5" y="467.7" width="15.3" height="15.3"/><rect x="1733.4" y="466.2" width="15.3" height="15.3"/><rect x="1726.2" y="467.7" width="15.3" height="15.3"/><rect x="1726.2" y="467.7" width="15.3" height="15.3"/><rect x="1739.7" y="466.9" width="15.3" height="15.3"/><rect x="1746.4" y="469.1" width="15.3" height="15.3"/><rect x="1757.4" y="468.4" width="15.3" height="15.3"/><rect x="1769.5" y="472" width="15.3" height="15.3"/><rect x="1781.5" y="469.1" width="15.3" height="15.3"/><rect x="1795.4" y="475.6" width="15.3" height="15.3"/><rect x="1803.1" y="461.2" width="15.3" height="15.3"/><rect x="1814.6" y="465.5" width="15.3" height="15.3"/><rect x="1824.7" y="468.4" width="15.3" height="15.3"/><rect x="1837.2" y="469.1" width="15.3" height="15.3"/><rect x="1847.3" y="456.8" width="15.3" height="15.3"/><rect x="1856.4" y="459.7" width="15.3" height="15.3"/><rect x="1868.5" y="456.8" width="15.3" height="15.3"/><rect x="1881.4" y="462.6" width="15.3" height="15.3"/><rect x="1889.6" y="452.5" width="15.3" height="15.3"/><rect x="1903.5" y="452.5" width="15.3" height="15.3"/><rect x="1912.7" y="407.6" width="15.3" height="15.3"/><rect x="1924.7" y="169.5" width="15.3" height="15.3"/><rect x="1936.7" y="172.4" width="15.3" height="15.3"/><rect x="1948.7" y="163" width="15.3" height="15.3"/><rect x="1962.2" y="166.6" width="15.3" height="15.3"/><rect x="1972.7" y="160.1" width="15.3" height="15.3"/><rect x="1983.8" y="163" width="15.3" height="15.3"/><rect x="1991.5" y="154.3" width="15.3" height="15.3"/></g>
</g>
<g stroke="#000" fill="none" stroke-linecap="round">
<rect x="1373.3" y="86.0" width="961.2" height="796.0" stroke-width="4.9" stroke-linejoin="round"/>
<path d="M1493.5 882.0V876M1493.5 86.0V92M1613.7 882.0V869.5M1613.7 86.0V98.5M1733.8 882.0V876M1733.8 86.0V92M1854 882.0V869.5M1854 86.0V98.5M1974.2 882.0V876M1974.2 86.0V92M2094.3 882.0V869.5M2094.3 86.0V98.5M2214.4 882.0V876M2214.4 86.0V92M1373.3 845.8H1379.3M2334.5 845.8H2328.5M1373.3 773.4H1385.8M2334.5 773.4H2322M1373.3 701.1H1379.3M2334.5 701.1H2328.5M1373.3 628.7H1385.8M2334.5 628.7H2322M1373.3 556.4H1379.3M2334.5 556.4H2328.5M1373.3 484H1385.8M2334.5 484H2322M1373.3 411.6H1379.3M2334.5 411.6H2328.5M1373.3 339.3H1385.8M2334.5 339.3H2322M1373.3 266.9H1379.3M2334.5 266.9H2328.5M1373.3 194.6H1385.8M2334.5 194.6H2322M1373.3 122.2H1379.3M2334.5 122.2H2328.5" stroke-width="4.6"/>
</g>
<g font-family="'Liberation Sans', Arial, sans-serif" font-size="73" fill="#000">
<text x="1373.4" y="953" text-anchor="middle">-100</text>
<text x="1613.7" y="953" text-anchor="middle">-50</text>
<text x="1854" y="953" text-anchor="middle">0</text>
<text x="2094.3" y="953" text-anchor="middle">50</text>
<text x="2334.6" y="953" text-anchor="middle">100</text>
<text x="1357" y="215.1" text-anchor="end">4</text>
<text x="1357" y="359.8" text-anchor="end">2</text>
<text x="1357" y="504.5" text-anchor="end">0</text>
<text x="1357" y="649.2" text-anchor="end">-2</text>
<text x="1357" y="793.9" text-anchor="end">-4</text>
</g>
<text x="1533" y="1032" font-family="'Liberation Sans', Arial, sans-serif" font-size="73">Magnetic Field (Oe)</text>
<text transform="translate(1274.8 750.7) rotate(-90)" font-family="'Liberation Sans', Arial, sans-serif" font-size="73"><tspan x="-2" y="0" font-style="italic">M</tspan><tspan x="62.3" y="-42" font-size="38" font-family="DejaVu Sans, sans-serif" stroke="#000" stroke-width="2">&#x25A1;</tspan><tspan x="121" y="0">(10</tspan><tspan x="225.3" y="-36" font-size="44">&#x2212;4</tspan><tspan x="293.2" y="0">emu/cm</tspan><tspan x="551.9" y="-35" font-size="44">2</tspan><tspan x="579.4" y="0">)</tspan></text>
<path d="M2133.5 100H2186.9" stroke="#ff0000" stroke-width="8" stroke-linecap="round" fill="none"/><path d="M2225.7 100L2186.9 88.5L2186.9 111.5Z" fill="#ff0000" stroke="#ff0000" stroke-width="4" stroke-linejoin="round"/>
<path d="M2132.5 127.3H2186.5" stroke="#980089" stroke-width="8" stroke-linecap="round" fill="none"/><path d="M2225 127.3L2186.5 115.8L2186.5 138.8Z" fill="#980089" stroke="#980089" stroke-width="4" stroke-linejoin="round"/>
<path d="M1710.5 523.4H1765.1" stroke="#ff0000" stroke-width="8" stroke-linecap="round" fill="none"/><path d="M1804.9 523.4L1765.1 511.9L1765.1 534.9Z" fill="#ff0000" stroke="#ff0000" stroke-width="4" stroke-linejoin="round"/>
<path d="M1802.4 550.8H1747.7" stroke="#980089" stroke-width="8" stroke-linecap="round" fill="none"/><path d="M1708 550.8L1747.7 539.3L1747.7 562.3Z" fill="#980089" stroke="#980089" stroke-width="4" stroke-linejoin="round"/>
<path d="M2028.9 516H1974.2" stroke="#ff0000" stroke-width="8" stroke-linecap="round" fill="none"/><path d="M1934.4 516L1974.2 504.5L1974.2 527.5Z" fill="#ff0000" stroke="#ff0000" stroke-width="4" stroke-linejoin="round"/>
<path d="M1934.4 542.6H1989.1" stroke="#980089" stroke-width="8" stroke-linecap="round" fill="none"/><path d="M2028.9 542.6L1989.1 531.1L1989.1 554.1Z" fill="#980089" stroke="#980089" stroke-width="4" stroke-linejoin="round"/>
<path d="M1541.5 738.4H1486.8" stroke="#ff0000" stroke-width="8" stroke-linecap="round" fill="none"/><path d="M1448.3 738.4L1486.8 726.9L1486.8 749.9Z" fill="#ff0000" stroke="#ff0000" stroke-width="4" stroke-linejoin="round"/>
<path d="M1541.5 765.7H1485.6" stroke="#980089" stroke-width="8" stroke-linecap="round" fill="none"/><path d="M1447 765.7L1485.6 754.2L1485.6 777.2Z" fill="#980089" stroke="#980089" stroke-width="4" stroke-linejoin="round"/>
<path d="M2087.5 118.8L1918.8 129.7M1954 115.2L1918.8 129.7L1956.4 139.4" stroke="#0000ff" stroke-width="3.6" stroke-linecap="round" stroke-linejoin="round" fill="none"/>
<path d="M1562.6 846.5L1732.8 840.3M1698 831.6L1732.8 840.3L1699.3 851.5" stroke="#0000ff" stroke-width="3.6" stroke-linecap="round" stroke-linejoin="round" fill="none"/>
<path d="M1891 203.7L1814 203.7M1841.9 196.4L1814 203.7L1841.9 212.2" stroke="#ff8800" stroke-width="3.6" stroke-linecap="round" stroke-linejoin="round" fill="none"/>
<path d="M1816.4 434.2L1892.2 434.2M1865.5 424.5L1892.2 434.2L1865.5 442.7" stroke="#ff8800" stroke-width="3.6" stroke-linecap="round" stroke-linejoin="round" fill="none"/>
</svg>
</body></html>
